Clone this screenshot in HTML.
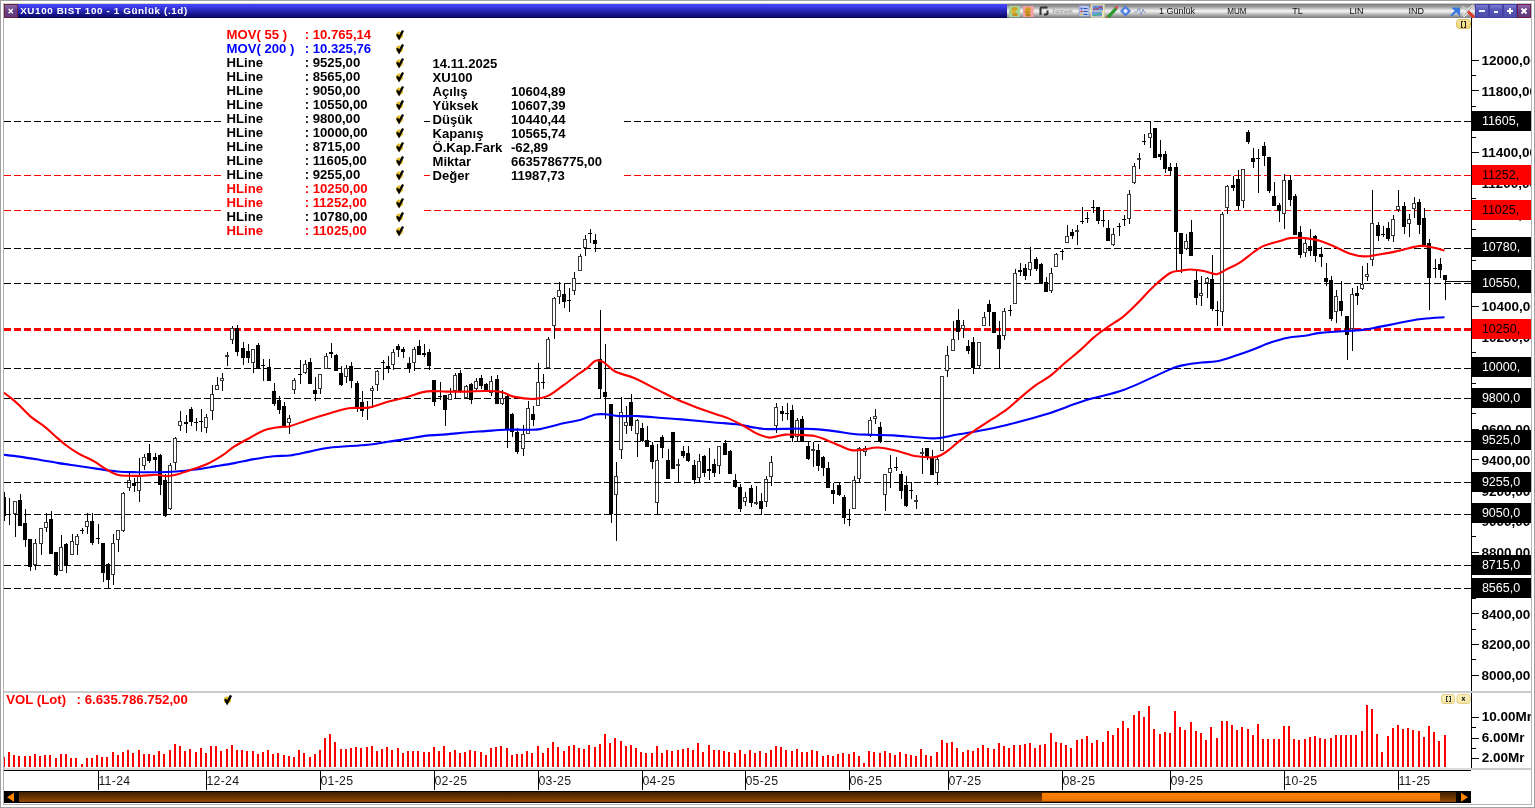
<!DOCTYPE html><html><head><meta charset="utf-8"><style>
html,body{margin:0;padding:0;background:#fff;overflow:hidden;}
body{width:1535px;height:808px;position:relative;font-family:"Liberation Sans", sans-serif;}
.a{position:absolute;}
svg{will-change:transform;}
svg text{font-family:"Liberation Sans", sans-serif;}
</style></head><body>
<svg class="a" style="left:0;top:0" width="1535" height="808" viewBox="0 0 1535 808" shape-rendering="crispEdges">
<defs>
<linearGradient id="gT" x1="0" y1="0" x2="0" y2="1"><stop offset="0" stop-color="#4646ff"/><stop offset="0.2" stop-color="#3c3cec"/><stop offset="0.45" stop-color="#2a2ab8"/><stop offset="0.75" stop-color="#16168a"/><stop offset="0.9" stop-color="#0c0c70"/><stop offset="1" stop-color="#00004e"/></linearGradient>
<linearGradient id="gG" x1="0" y1="0" x2="0" y2="1"><stop offset="0" stop-color="#7c7c7c"/><stop offset="0.18" stop-color="#9a9a9a"/><stop offset="0.5" stop-color="#f6f6f6"/><stop offset="0.8" stop-color="#a8a8a8"/><stop offset="1" stop-color="#7a7a7a"/></linearGradient>
<linearGradient id="gB" x1="0" y1="0" x2="0" y2="1"><stop offset="0" stop-color="#8080d4"/><stop offset="0.45" stop-color="#5656b6"/><stop offset="1" stop-color="#4a4aa6"/></linearGradient>
<linearGradient id="gP" x1="0" y1="0" x2="0" y2="1"><stop offset="0" stop-color="#9070b0"/><stop offset="0.5" stop-color="#6a3e88"/><stop offset="1" stop-color="#5e3a7c"/></linearGradient>
<linearGradient id="gS" x1="0" y1="0" x2="0" y2="1"><stop offset="0" stop-color="#3c1e00"/><stop offset="1" stop-color="#924800"/></linearGradient>
<linearGradient id="gO" x1="0" y1="0" x2="0" y2="1"><stop offset="0" stop-color="#ff8200"/><stop offset="1" stop-color="#ea7400"/></linearGradient>
<linearGradient id="gY" x1="0" y1="0" x2="0" y2="1"><stop offset="0" stop-color="#f8e8a0"/><stop offset="1" stop-color="#ecd478"/></linearGradient>
<linearGradient id="gY2" x1="0" y1="0" x2="0" y2="1"><stop offset="0" stop-color="#fdf4c4"/><stop offset="1" stop-color="#f4e4a4"/></linearGradient>
</defs>
<rect x="4" y="4" width="1003" height="14" fill="url(#gT)"/>
<rect x="4" y="4" width="14" height="14" fill="url(#gP)"/>
<rect x="4.5" y="4.5" width="13" height="13" fill="none" stroke="#6a2040" stroke-width="1"/>
<path d="M8.6 9 L12.8 13.2 M12.8 9 L8.6 13.2" stroke="#fff" stroke-width="1.5" shape-rendering="auto"/>
<text x="20.2" y="14" font-size="9.8" font-weight="bold" fill="#fff" textLength="167" lengthAdjust="spacing">XU100 BIST 100 - 1 Günlük (.1d)</text>
<rect x="1007" y="4" width="468" height="14" fill="url(#gG)"/>
<rect x="1475" y="4" width="14" height="14" fill="url(#gB)"/>
<rect x="1475.5" y="4.5" width="13" height="13" fill="none" stroke="#4242a8" stroke-width="1"/>
<rect x="1489" y="4" width="14" height="14" fill="url(#gB)"/>
<rect x="1489.5" y="4.5" width="13" height="13" fill="none" stroke="#4242a8" stroke-width="1"/>
<rect x="1503" y="4" width="14" height="14" fill="url(#gB)"/>
<rect x="1503.5" y="4.5" width="13" height="13" fill="none" stroke="#4242a8" stroke-width="1"/>
<rect x="1517" y="4" width="14" height="14" fill="url(#gP)"/>
<rect x="1517.5" y="4.5" width="13" height="13" fill="none" stroke="#701848" stroke-width="1"/>
<rect x="1479" y="10" width="6" height="2" fill="#f4f4ff"/>
<rect x="1494" y="11" width="4" height="2" fill="#f4f4ff"/>
<rect x="1507" y="10" width="6" height="2" fill="#fff"/><rect x="1509" y="8" width="2" height="6" fill="#fff"/>
<path d="M1521.5 8.5 L1526.5 13.5 M1526.5 8.5 L1521.5 13.5" stroke="#fff" stroke-width="1.8" shape-rendering="auto"/>
<g shape-rendering="auto">
<rect x="1009" y="6" width="11" height="11" fill="#9fd49a"/>
<ellipse cx="1014.5" cy="8.5" rx="3.2" ry="1.6" fill="#d4a020"/><ellipse cx="1013.5" cy="11.5" rx="3" ry="1.6" fill="#e0b030"/><ellipse cx="1015" cy="14.5" rx="3" ry="1.6" fill="#c89018"/>
<rect x="1023" y="6" width="10.5" height="11" fill="#f4a0a0"/>
<ellipse cx="1028" cy="9" rx="3" ry="1.8" fill="#d4a020"/><ellipse cx="1027.5" cy="12" rx="3" ry="1.8" fill="#c89018"/><ellipse cx="1028" cy="15" rx="2.6" ry="1.5" fill="#b88010"/>
<path d="M1040.5 15 V8.5 Q1040.5 7.5 1041.5 7.5 H1047.5 M1047.5 10.5 V13.5 Q1047.5 14.5 1046.5 14.5 H1044" stroke="#333" stroke-width="2" fill="none"/>
<text x="1052.5" y="13" font-size="6" fill="#8a8a8a" textLength="20" lengthAdjust="spacingAndGlyphs">Forinvest</text>
<rect x="1079" y="5.5" width="10" height="11" fill="#b8c8ec" stroke="#7a8ab8" stroke-width="0.6"/>
<circle cx="1081.5" cy="8.5" r="1" fill="#3050c0"/><circle cx="1081.5" cy="11.5" r="1.1" fill="#e04040"/><circle cx="1081.5" cy="14.5" r="1.1" fill="#e8c020"/>
<path d="M1083.5 8.5 H1087.5 M1083.5 11.5 H1087.5 M1083.5 14.5 H1087.5" stroke="#3050b0" stroke-width="1"/>
<rect x="1091" y="4.5" width="13.5" height="13" fill="#efe3b8" stroke="#d8c890" stroke-width="0.6"/>
<rect x="1092.5" y="5.5" width="10.5" height="5" fill="#5c8ee0"/><path d="M1093 10 L1095.5 8 L1097.5 9.5 L1100 6.5 L1102.5 8.5" stroke="#e02020" stroke-width="1" fill="none"/>
<rect x="1092" y="11.5" width="10" height="5" fill="#6c9ce8"/><path d="M1093 14.5 L1096 15.5 L1099 13.5 L1101.5 14.5" stroke="#30c030" stroke-width="1" fill="none"/>
<path d="M1107 16.5 L1115.5 7 L1117.5 9 L1109 18 Z" fill="#2aa02a" stroke="#187018" stroke-width="0.5"/><circle cx="1116.5" cy="7.5" r="1.4" fill="#e05050"/><path d="M1106 18 L1107 16.5 L1109 18 Z" fill="#e07030"/>
<path d="M1125.5 5.5 L1131 11 L1125.5 16.5 L1120 11 Z" fill="#4a7ee0"/><path d="M1125.5 8.5 L1128 11 L1125.5 13.5 L1123 11 Z" fill="#e8f0ff"/>
<path d="M1134 12 H1137 L1139 7 L1141 15 L1143 9 L1144 12 H1146" stroke="#8aa0c8" stroke-width="1" fill="none"/>
<path d="M1451 16 L1457 10 M1454 8.5 H1459 V13.5 Z" stroke="#3a7ae0" stroke-width="2.2" fill="#3a7ae0"/>
<path d="M1473.5 5.5 L1463 16.5" stroke="#f0f0f0" stroke-width="2.6"/><path d="M1473.5 5.5 L1463 16.5" stroke="#909090" stroke-width="1"/><path d="M1462.5 6 L1468 11.5" stroke="#c8c8c8" stroke-width="1.6"/><path d="M1468 11.5 L1474 17.5" stroke="#e03828" stroke-width="2.8"/>
</g>
<g font-size="9" fill="#141414">
<text x="1159" y="14.2">1 Günlük</text>
<text x="1227.2" y="14.2" textLength="19.3" lengthAdjust="spacingAndGlyphs">MUM</text>
<text x="1292.3" y="14.2">TL</text>
<text x="1349.5" y="14.2">LIN</text>
<text x="1408.4" y="14.2">IND</text>
</g>
<line x1="4" y1="441.5" x2="1471" y2="441.5" stroke="#000" stroke-width="1" stroke-dasharray="7 3"/>
<line x1="4" y1="588.5" x2="1471" y2="588.5" stroke="#000" stroke-width="1" stroke-dasharray="7 3"/>
<line x1="4" y1="514.5" x2="1471" y2="514.5" stroke="#000" stroke-width="1" stroke-dasharray="7 3"/>
<line x1="4" y1="283.5" x2="1471" y2="283.5" stroke="#000" stroke-width="1" stroke-dasharray="7 3"/>
<line x1="4" y1="398.5" x2="1471" y2="398.5" stroke="#000" stroke-width="1" stroke-dasharray="7 3"/>
<line x1="4" y1="368.5" x2="1471" y2="368.5" stroke="#000" stroke-width="1" stroke-dasharray="7 3"/>
<line x1="4" y1="565.5" x2="1471" y2="565.5" stroke="#000" stroke-width="1" stroke-dasharray="7 3"/>
<line x1="4" y1="121.5" x2="1471" y2="121.5" stroke="#000" stroke-width="1" stroke-dasharray="7 3"/>
<line x1="4" y1="329.5" x2="1471" y2="329.5" stroke="#ff0000" stroke-width="3" stroke-dasharray="7 3"/>
<line x1="4" y1="175.5" x2="1471" y2="175.5" stroke="#ff0000" stroke-width="1" stroke-dasharray="7 3"/>
<line x1="4" y1="248.5" x2="1471" y2="248.5" stroke="#000" stroke-width="1" stroke-dasharray="7 3"/>
<line x1="4" y1="210.5" x2="1471" y2="210.5" stroke="#ff0000" stroke-width="1" stroke-dasharray="7 3"/>
<rect x="4" y="492" width="1" height="29" fill="#000"/>
<rect x="4" y="497" width="2" height="19" fill="#000"/>
<rect x="9" y="498" width="1" height="27" fill="#000"/>
<rect x="7" y="514" width="4" height="1" fill="#000"/>
<rect x="15" y="501" width="1" height="36" fill="#000"/>
<rect x="13.5" y="501.5" width="3" height="12" fill="#fff" stroke="#3a3a3a" stroke-width="1"/>
<rect x="20" y="494" width="1" height="32" fill="#000"/>
<rect x="18" y="500" width="4" height="26" fill="#000"/>
<rect x="25" y="509" width="1" height="38" fill="#000"/>
<rect x="23" y="523" width="4" height="17" fill="#000"/>
<rect x="30" y="539" width="1" height="32" fill="#000"/>
<rect x="28" y="539" width="4" height="28" fill="#000"/>
<rect x="35" y="539" width="1" height="31" fill="#000"/>
<rect x="33.5" y="543.5" width="3" height="21" fill="#fff" stroke="#3a3a3a" stroke-width="1"/>
<rect x="41" y="528" width="1" height="27" fill="#000"/>
<rect x="39.5" y="528.5" width="3" height="15" fill="#fff" stroke="#3a3a3a" stroke-width="1"/>
<rect x="46" y="513" width="1" height="19" fill="#000"/>
<rect x="44.5" y="522.5" width="3" height="5" fill="#fff" stroke="#3a3a3a" stroke-width="1"/>
<rect x="51" y="511" width="1" height="43" fill="#000"/>
<rect x="49" y="519" width="4" height="35" fill="#000"/>
<rect x="56" y="552" width="1" height="24" fill="#000"/>
<rect x="54" y="552" width="4" height="23" fill="#000"/>
<rect x="61" y="535" width="1" height="36" fill="#000"/>
<rect x="59.5" y="547.5" width="3" height="23" fill="#fff" stroke="#3a3a3a" stroke-width="1"/>
<rect x="66" y="543" width="1" height="30" fill="#000"/>
<rect x="64" y="544" width="4" height="21" fill="#000"/>
<rect x="72" y="534" width="1" height="21" fill="#000"/>
<rect x="70.5" y="541.5" width="3" height="13" fill="#fff" stroke="#3a3a3a" stroke-width="1"/>
<rect x="77" y="534" width="1" height="21" fill="#000"/>
<rect x="75.5" y="536.5" width="3" height="8" fill="#fff" stroke="#3a3a3a" stroke-width="1"/>
<rect x="82" y="528" width="1" height="6" fill="#000"/>
<rect x="80" y="530" width="4" height="1" fill="#000"/>
<rect x="87" y="513" width="1" height="21" fill="#000"/>
<rect x="85.5" y="521.5" width="3" height="5" fill="#fff" stroke="#3a3a3a" stroke-width="1"/>
<rect x="92" y="513" width="1" height="32" fill="#000"/>
<rect x="90" y="521" width="4" height="22" fill="#000"/>
<rect x="98" y="524" width="1" height="20" fill="#000"/>
<rect x="96" y="538" width="4" height="1" fill="#000"/>
<rect x="103" y="543" width="1" height="39" fill="#000"/>
<rect x="101" y="543" width="4" height="30" fill="#000"/>
<rect x="108" y="563" width="1" height="26" fill="#000"/>
<rect x="106" y="564" width="4" height="16" fill="#000"/>
<rect x="113" y="534" width="1" height="51" fill="#000"/>
<rect x="111.5" y="543.5" width="3" height="31" fill="#fff" stroke="#3a3a3a" stroke-width="1"/>
<rect x="118" y="530" width="1" height="22" fill="#000"/>
<rect x="116.5" y="530.5" width="3" height="9" fill="#fff" stroke="#3a3a3a" stroke-width="1"/>
<rect x="123" y="492" width="1" height="40" fill="#000"/>
<rect x="121.5" y="493.5" width="3" height="37" fill="#fff" stroke="#3a3a3a" stroke-width="1"/>
<rect x="129" y="471" width="1" height="20" fill="#000"/>
<rect x="127.5" y="480.5" width="3" height="7" fill="#fff" stroke="#3a3a3a" stroke-width="1"/>
<rect x="134" y="478" width="1" height="14" fill="#000"/>
<rect x="132" y="483" width="4" height="3" fill="#000"/>
<rect x="139" y="458" width="1" height="44" fill="#000"/>
<rect x="137.5" y="476.5" width="3" height="14" fill="#fff" stroke="#3a3a3a" stroke-width="1"/>
<rect x="144" y="454" width="1" height="16" fill="#000"/>
<rect x="142.5" y="457.5" width="3" height="8" fill="#fff" stroke="#3a3a3a" stroke-width="1"/>
<rect x="149" y="444" width="1" height="19" fill="#000"/>
<rect x="147" y="453" width="4" height="8" fill="#000"/>
<rect x="155" y="453" width="1" height="18" fill="#000"/>
<rect x="153" y="457" width="4" height="3" fill="#000"/>
<rect x="160" y="454" width="1" height="41" fill="#000"/>
<rect x="158" y="455" width="4" height="30" fill="#000"/>
<rect x="165" y="474" width="1" height="43" fill="#000"/>
<rect x="163" y="480" width="4" height="36" fill="#000"/>
<rect x="170" y="463" width="1" height="47" fill="#000"/>
<rect x="168.5" y="465.5" width="3" height="43" fill="#fff" stroke="#3a3a3a" stroke-width="1"/>
<rect x="175" y="437" width="1" height="33" fill="#000"/>
<rect x="173.5" y="438.5" width="3" height="24" fill="#fff" stroke="#3a3a3a" stroke-width="1"/>
<rect x="180" y="411" width="1" height="20" fill="#000"/>
<rect x="178.5" y="421.5" width="3" height="4" fill="#fff" stroke="#3a3a3a" stroke-width="1"/>
<rect x="186" y="415" width="1" height="18" fill="#000"/>
<rect x="184" y="422" width="4" height="2" fill="#000"/>
<rect x="191" y="407" width="1" height="19" fill="#000"/>
<rect x="189" y="409" width="4" height="13" fill="#000"/>
<rect x="196" y="418" width="1" height="13" fill="#000"/>
<rect x="194" y="422" width="4" height="1" fill="#000"/>
<rect x="201" y="409" width="1" height="23" fill="#000"/>
<rect x="199" y="421" width="4" height="1" fill="#000"/>
<rect x="206" y="414" width="1" height="19" fill="#000"/>
<rect x="204.5" y="417.5" width="3" height="10" fill="#fff" stroke="#3a3a3a" stroke-width="1"/>
<rect x="212" y="385" width="1" height="35" fill="#000"/>
<rect x="210.5" y="394.5" width="3" height="16" fill="#fff" stroke="#3a3a3a" stroke-width="1"/>
<rect x="217" y="377" width="1" height="13" fill="#000"/>
<rect x="215.5" y="385.5" width="3" height="4" fill="#fff" stroke="#3a3a3a" stroke-width="1"/>
<rect x="222" y="373" width="1" height="18" fill="#000"/>
<rect x="220.5" y="378.5" width="3" height="2" fill="#fff" stroke="#3a3a3a" stroke-width="1"/>
<rect x="227" y="352" width="1" height="14" fill="#000"/>
<rect x="225.5" y="355.5" width="3" height="1" fill="#fff" stroke="#3a3a3a" stroke-width="1"/>
<rect x="232" y="326" width="1" height="18" fill="#000"/>
<rect x="230.5" y="328.5" width="3" height="11" fill="#fff" stroke="#3a3a3a" stroke-width="1"/>
<rect x="237" y="325" width="1" height="31" fill="#000"/>
<rect x="235" y="328" width="4" height="24" fill="#000"/>
<rect x="243" y="342" width="1" height="23" fill="#000"/>
<rect x="241" y="348" width="4" height="10" fill="#000"/>
<rect x="248" y="344" width="1" height="19" fill="#000"/>
<rect x="246" y="351" width="4" height="7" fill="#000"/>
<rect x="253" y="349" width="1" height="24" fill="#000"/>
<rect x="251.5" y="349.5" width="3" height="13" fill="#fff" stroke="#3a3a3a" stroke-width="1"/>
<rect x="258" y="343" width="1" height="25" fill="#000"/>
<rect x="256" y="345" width="4" height="23" fill="#000"/>
<rect x="263" y="359" width="1" height="22" fill="#000"/>
<rect x="261" y="365" width="4" height="1" fill="#000"/>
<rect x="269" y="359" width="1" height="22" fill="#000"/>
<rect x="267" y="367" width="4" height="14" fill="#000"/>
<rect x="274" y="383" width="1" height="23" fill="#000"/>
<rect x="272" y="391" width="4" height="13" fill="#000"/>
<rect x="279" y="396" width="1" height="18" fill="#000"/>
<rect x="277" y="400" width="4" height="10" fill="#000"/>
<rect x="284" y="402" width="1" height="26" fill="#000"/>
<rect x="282" y="406" width="4" height="20" fill="#000"/>
<rect x="289" y="415" width="1" height="19" fill="#000"/>
<rect x="287.5" y="418.5" width="3" height="4" fill="#fff" stroke="#3a3a3a" stroke-width="1"/>
<rect x="294" y="378" width="1" height="16" fill="#000"/>
<rect x="292.5" y="380.5" width="3" height="9" fill="#fff" stroke="#3a3a3a" stroke-width="1"/>
<rect x="300" y="360" width="1" height="24" fill="#000"/>
<rect x="298" y="374" width="4" height="1" fill="#000"/>
<rect x="305" y="360" width="1" height="14" fill="#000"/>
<rect x="303.5" y="364.5" width="3" height="8" fill="#fff" stroke="#3a3a3a" stroke-width="1"/>
<rect x="310" y="358" width="1" height="26" fill="#000"/>
<rect x="308" y="362" width="4" height="22" fill="#000"/>
<rect x="315" y="377" width="1" height="24" fill="#000"/>
<rect x="313" y="390" width="4" height="4" fill="#000"/>
<rect x="320" y="374" width="1" height="20" fill="#000"/>
<rect x="318.5" y="374.5" width="3" height="14" fill="#fff" stroke="#3a3a3a" stroke-width="1"/>
<rect x="326" y="353" width="1" height="16" fill="#000"/>
<rect x="324.5" y="356.5" width="3" height="12" fill="#fff" stroke="#3a3a3a" stroke-width="1"/>
<rect x="331" y="343" width="1" height="15" fill="#000"/>
<rect x="329" y="352" width="4" height="2" fill="#000"/>
<rect x="336" y="354" width="1" height="17" fill="#000"/>
<rect x="334" y="355" width="4" height="16" fill="#000"/>
<rect x="341" y="366" width="1" height="20" fill="#000"/>
<rect x="339" y="373" width="4" height="12" fill="#000"/>
<rect x="346" y="365" width="1" height="18" fill="#000"/>
<rect x="344.5" y="368.5" width="3" height="8" fill="#fff" stroke="#3a3a3a" stroke-width="1"/>
<rect x="351" y="362" width="1" height="26" fill="#000"/>
<rect x="349" y="366" width="4" height="15" fill="#000"/>
<rect x="357" y="381" width="1" height="31" fill="#000"/>
<rect x="355" y="383" width="4" height="25" fill="#000"/>
<rect x="362" y="391" width="1" height="26" fill="#000"/>
<rect x="360" y="402" width="4" height="9" fill="#000"/>
<rect x="367" y="401" width="1" height="19" fill="#000"/>
<rect x="365" y="408" width="4" height="1" fill="#000"/>
<rect x="372" y="386" width="1" height="22" fill="#000"/>
<rect x="370.5" y="388.5" width="3" height="2" fill="#fff" stroke="#3a3a3a" stroke-width="1"/>
<rect x="377" y="370" width="1" height="21" fill="#000"/>
<rect x="375.5" y="371.5" width="3" height="13" fill="#fff" stroke="#3a3a3a" stroke-width="1"/>
<rect x="383" y="360" width="1" height="20" fill="#000"/>
<rect x="381" y="362" width="4" height="1" fill="#000"/>
<rect x="388" y="356" width="1" height="17" fill="#000"/>
<rect x="386" y="366" width="4" height="2" fill="#000"/>
<rect x="393" y="349" width="1" height="21" fill="#000"/>
<rect x="391.5" y="352.5" width="3" height="12" fill="#fff" stroke="#3a3a3a" stroke-width="1"/>
<rect x="398" y="344" width="1" height="13" fill="#000"/>
<rect x="396" y="346" width="4" height="4" fill="#000"/>
<rect x="403" y="347" width="1" height="11" fill="#000"/>
<rect x="401" y="349" width="4" height="3" fill="#000"/>
<rect x="409" y="357" width="1" height="16" fill="#000"/>
<rect x="407" y="363" width="4" height="5" fill="#000"/>
<rect x="414" y="347" width="1" height="24" fill="#000"/>
<rect x="412.5" y="349.5" width="3" height="13" fill="#fff" stroke="#3a3a3a" stroke-width="1"/>
<rect x="419" y="340" width="1" height="15" fill="#000"/>
<rect x="417" y="346" width="4" height="9" fill="#000"/>
<rect x="424" y="344" width="1" height="13" fill="#000"/>
<rect x="422" y="353" width="4" height="2" fill="#000"/>
<rect x="429" y="349" width="1" height="21" fill="#000"/>
<rect x="427" y="352" width="4" height="14" fill="#000"/>
<rect x="434" y="380" width="1" height="26" fill="#000"/>
<rect x="432" y="380" width="4" height="22" fill="#000"/>
<rect x="440" y="382" width="1" height="18" fill="#000"/>
<rect x="438" y="396" width="4" height="1" fill="#000"/>
<rect x="445" y="395" width="1" height="31" fill="#000"/>
<rect x="443" y="395" width="4" height="15" fill="#000"/>
<rect x="450" y="388" width="1" height="12" fill="#000"/>
<rect x="448.5" y="394.5" width="3" height="5" fill="#fff" stroke="#3a3a3a" stroke-width="1"/>
<rect x="455" y="373" width="1" height="25" fill="#000"/>
<rect x="453.5" y="375.5" width="3" height="15" fill="#fff" stroke="#3a3a3a" stroke-width="1"/>
<rect x="460" y="370" width="1" height="23" fill="#000"/>
<rect x="458" y="373" width="4" height="18" fill="#000"/>
<rect x="466" y="385" width="1" height="14" fill="#000"/>
<rect x="464.5" y="386.5" width="3" height="11" fill="#fff" stroke="#3a3a3a" stroke-width="1"/>
<rect x="471" y="383" width="1" height="21" fill="#000"/>
<rect x="469" y="384" width="4" height="16" fill="#000"/>
<rect x="476" y="378" width="1" height="12" fill="#000"/>
<rect x="474.5" y="381.5" width="3" height="7" fill="#fff" stroke="#3a3a3a" stroke-width="1"/>
<rect x="481" y="375" width="1" height="14" fill="#000"/>
<rect x="479" y="378" width="4" height="8" fill="#000"/>
<rect x="486" y="383" width="1" height="7" fill="#000"/>
<rect x="484" y="384" width="4" height="6" fill="#000"/>
<rect x="491" y="376" width="1" height="20" fill="#000"/>
<rect x="489.5" y="381.5" width="3" height="11" fill="#fff" stroke="#3a3a3a" stroke-width="1"/>
<rect x="497" y="375" width="1" height="29" fill="#000"/>
<rect x="495" y="379" width="4" height="25" fill="#000"/>
<rect x="502" y="390" width="1" height="15" fill="#000"/>
<rect x="500.5" y="398.5" width="3" height="5" fill="#fff" stroke="#3a3a3a" stroke-width="1"/>
<rect x="507" y="395" width="1" height="53" fill="#000"/>
<rect x="505" y="396" width="4" height="33" fill="#000"/>
<rect x="512" y="413" width="1" height="24" fill="#000"/>
<rect x="510" y="414" width="4" height="18" fill="#000"/>
<rect x="517" y="428" width="1" height="26" fill="#000"/>
<rect x="515" y="432" width="4" height="20" fill="#000"/>
<rect x="523" y="425" width="1" height="31" fill="#000"/>
<rect x="521.5" y="434.5" width="3" height="14" fill="#fff" stroke="#3a3a3a" stroke-width="1"/>
<rect x="528" y="401" width="1" height="33" fill="#000"/>
<rect x="526.5" y="408.5" width="3" height="25" fill="#fff" stroke="#3a3a3a" stroke-width="1"/>
<rect x="533" y="406" width="1" height="20" fill="#000"/>
<rect x="531" y="414" width="4" height="6" fill="#000"/>
<rect x="538" y="363" width="1" height="43" fill="#000"/>
<rect x="536.5" y="382.5" width="3" height="23" fill="#fff" stroke="#3a3a3a" stroke-width="1"/>
<rect x="543" y="374" width="1" height="15" fill="#000"/>
<rect x="541" y="382" width="4" height="1" fill="#000"/>
<rect x="548" y="337" width="1" height="31" fill="#000"/>
<rect x="546.5" y="339.5" width="3" height="28" fill="#fff" stroke="#3a3a3a" stroke-width="1"/>
<rect x="554" y="297" width="1" height="42" fill="#000"/>
<rect x="552.5" y="298.5" width="3" height="27" fill="#fff" stroke="#3a3a3a" stroke-width="1"/>
<rect x="559" y="282" width="1" height="22" fill="#000"/>
<rect x="557.5" y="290.5" width="3" height="6" fill="#fff" stroke="#3a3a3a" stroke-width="1"/>
<rect x="564" y="283" width="1" height="25" fill="#000"/>
<rect x="562" y="294" width="4" height="8" fill="#000"/>
<rect x="569" y="288" width="1" height="24" fill="#000"/>
<rect x="567" y="300" width="4" height="1" fill="#000"/>
<rect x="574" y="272" width="1" height="23" fill="#000"/>
<rect x="572.5" y="278.5" width="3" height="12" fill="#fff" stroke="#3a3a3a" stroke-width="1"/>
<rect x="580" y="254" width="1" height="17" fill="#000"/>
<rect x="578.5" y="256.5" width="3" height="14" fill="#fff" stroke="#3a3a3a" stroke-width="1"/>
<rect x="585" y="235" width="1" height="21" fill="#000"/>
<rect x="583.5" y="239.5" width="3" height="8" fill="#fff" stroke="#3a3a3a" stroke-width="1"/>
<rect x="590" y="229" width="1" height="14" fill="#000"/>
<rect x="588" y="233" width="4" height="1" fill="#000"/>
<rect x="595" y="234" width="1" height="18" fill="#000"/>
<rect x="593" y="240" width="4" height="4" fill="#000"/>
<rect x="600" y="310" width="1" height="88" fill="#000"/>
<rect x="598" y="359" width="4" height="30" fill="#000"/>
<rect x="605" y="344" width="1" height="75" fill="#000"/>
<rect x="603" y="392" width="4" height="5" fill="#000"/>
<rect x="611" y="404" width="1" height="119" fill="#000"/>
<rect x="609" y="404" width="4" height="110" fill="#000"/>
<rect x="616" y="462" width="1" height="79" fill="#000"/>
<rect x="614.5" y="476.5" width="3" height="18" fill="#fff" stroke="#3a3a3a" stroke-width="1"/>
<rect x="621" y="397" width="1" height="62" fill="#000"/>
<rect x="619.5" y="412.5" width="3" height="37" fill="#fff" stroke="#3a3a3a" stroke-width="1"/>
<rect x="626" y="406" width="1" height="28" fill="#000"/>
<rect x="624.5" y="422.5" width="3" height="3" fill="#fff" stroke="#3a3a3a" stroke-width="1"/>
<rect x="631" y="394" width="1" height="37" fill="#000"/>
<rect x="629" y="402" width="4" height="24" fill="#000"/>
<rect x="637" y="419" width="1" height="38" fill="#000"/>
<rect x="635.5" y="420.5" width="3" height="13" fill="#fff" stroke="#3a3a3a" stroke-width="1"/>
<rect x="642" y="423" width="1" height="19" fill="#000"/>
<rect x="640" y="428" width="4" height="13" fill="#000"/>
<rect x="647" y="426" width="1" height="21" fill="#000"/>
<rect x="645" y="440" width="4" height="7" fill="#000"/>
<rect x="652" y="442" width="1" height="27" fill="#000"/>
<rect x="650" y="445" width="4" height="17" fill="#000"/>
<rect x="657" y="444" width="1" height="70" fill="#000"/>
<rect x="655.5" y="460.5" width="3" height="42" fill="#fff" stroke="#3a3a3a" stroke-width="1"/>
<rect x="662" y="435" width="1" height="23" fill="#000"/>
<rect x="660" y="437" width="4" height="11" fill="#000"/>
<rect x="668" y="449" width="1" height="30" fill="#000"/>
<rect x="666" y="460" width="4" height="19" fill="#000"/>
<rect x="673" y="432" width="1" height="37" fill="#000"/>
<rect x="671" y="432" width="4" height="37" fill="#000"/>
<rect x="678" y="459" width="1" height="23" fill="#000"/>
<rect x="676.5" y="464.5" width="3" height="1" fill="#fff" stroke="#3a3a3a" stroke-width="1"/>
<rect x="683" y="446" width="1" height="12" fill="#000"/>
<rect x="681" y="451" width="4" height="5" fill="#000"/>
<rect x="688" y="446" width="1" height="16" fill="#000"/>
<rect x="686" y="453" width="4" height="8" fill="#000"/>
<rect x="694" y="460" width="1" height="24" fill="#000"/>
<rect x="692" y="465" width="4" height="15" fill="#000"/>
<rect x="699" y="454" width="1" height="28" fill="#000"/>
<rect x="697.5" y="461.5" width="3" height="16" fill="#fff" stroke="#3a3a3a" stroke-width="1"/>
<rect x="704" y="455" width="1" height="22" fill="#000"/>
<rect x="702" y="456" width="4" height="17" fill="#000"/>
<rect x="709" y="448" width="1" height="32" fill="#000"/>
<rect x="707" y="469" width="4" height="2" fill="#000"/>
<rect x="714" y="459" width="1" height="18" fill="#000"/>
<rect x="712" y="464" width="4" height="9" fill="#000"/>
<rect x="719" y="446" width="1" height="28" fill="#000"/>
<rect x="717.5" y="446.5" width="3" height="19" fill="#fff" stroke="#3a3a3a" stroke-width="1"/>
<rect x="725" y="440" width="1" height="15" fill="#000"/>
<rect x="723" y="443" width="4" height="12" fill="#000"/>
<rect x="730" y="450" width="1" height="24" fill="#000"/>
<rect x="728" y="451" width="4" height="23" fill="#000"/>
<rect x="735" y="474" width="1" height="14" fill="#000"/>
<rect x="733" y="480" width="4" height="7" fill="#000"/>
<rect x="740" y="484" width="1" height="28" fill="#000"/>
<rect x="738" y="487" width="4" height="22" fill="#000"/>
<rect x="745" y="492" width="1" height="14" fill="#000"/>
<rect x="743.5" y="497.5" width="3" height="4" fill="#fff" stroke="#3a3a3a" stroke-width="1"/>
<rect x="751" y="485" width="1" height="22" fill="#000"/>
<rect x="749" y="488" width="4" height="15" fill="#000"/>
<rect x="756" y="486" width="1" height="19" fill="#000"/>
<rect x="754.5" y="502.5" width="3" height="1" fill="#fff" stroke="#3a3a3a" stroke-width="1"/>
<rect x="761" y="493" width="1" height="22" fill="#000"/>
<rect x="759" y="501" width="4" height="8" fill="#000"/>
<rect x="766" y="476" width="1" height="31" fill="#000"/>
<rect x="764.5" y="479.5" width="3" height="22" fill="#fff" stroke="#3a3a3a" stroke-width="1"/>
<rect x="771" y="456" width="1" height="30" fill="#000"/>
<rect x="769.5" y="462.5" width="3" height="14" fill="#fff" stroke="#3a3a3a" stroke-width="1"/>
<rect x="776" y="403" width="1" height="30" fill="#000"/>
<rect x="774.5" y="407.5" width="3" height="18" fill="#fff" stroke="#3a3a3a" stroke-width="1"/>
<rect x="782" y="406" width="1" height="15" fill="#000"/>
<rect x="780" y="411" width="4" height="3" fill="#000"/>
<rect x="787" y="403" width="1" height="17" fill="#000"/>
<rect x="785" y="413" width="4" height="1" fill="#000"/>
<rect x="792" y="405" width="1" height="37" fill="#000"/>
<rect x="790" y="410" width="4" height="28" fill="#000"/>
<rect x="797" y="418" width="1" height="24" fill="#000"/>
<rect x="795.5" y="420.5" width="3" height="16" fill="#fff" stroke="#3a3a3a" stroke-width="1"/>
<rect x="802" y="416" width="1" height="26" fill="#000"/>
<rect x="800" y="419" width="4" height="23" fill="#000"/>
<rect x="808" y="441" width="1" height="19" fill="#000"/>
<rect x="806" y="446" width="4" height="13" fill="#000"/>
<rect x="813" y="442" width="1" height="25" fill="#000"/>
<rect x="811.5" y="449.5" width="3" height="1" fill="#fff" stroke="#3a3a3a" stroke-width="1"/>
<rect x="818" y="444" width="1" height="27" fill="#000"/>
<rect x="816" y="450" width="4" height="16" fill="#000"/>
<rect x="823" y="456" width="1" height="20" fill="#000"/>
<rect x="821" y="457" width="4" height="11" fill="#000"/>
<rect x="828" y="462" width="1" height="26" fill="#000"/>
<rect x="826" y="468" width="4" height="20" fill="#000"/>
<rect x="833" y="483" width="1" height="21" fill="#000"/>
<rect x="831" y="490" width="4" height="4" fill="#000"/>
<rect x="839" y="482" width="1" height="14" fill="#000"/>
<rect x="837" y="485" width="4" height="10" fill="#000"/>
<rect x="844" y="495" width="1" height="29" fill="#000"/>
<rect x="842" y="497" width="4" height="21" fill="#000"/>
<rect x="849" y="509" width="1" height="17" fill="#000"/>
<rect x="847" y="519" width="4" height="1" fill="#000"/>
<rect x="854" y="476" width="1" height="33" fill="#000"/>
<rect x="852.5" y="480.5" width="3" height="28" fill="#fff" stroke="#3a3a3a" stroke-width="1"/>
<rect x="859" y="447" width="1" height="35" fill="#000"/>
<rect x="857.5" y="448.5" width="3" height="30" fill="#fff" stroke="#3a3a3a" stroke-width="1"/>
<rect x="865" y="446" width="1" height="10" fill="#000"/>
<rect x="863.5" y="448.5" width="3" height="3" fill="#fff" stroke="#3a3a3a" stroke-width="1"/>
<rect x="870" y="417" width="1" height="20" fill="#000"/>
<rect x="868.5" y="420.5" width="3" height="15" fill="#fff" stroke="#3a3a3a" stroke-width="1"/>
<rect x="875" y="409" width="1" height="15" fill="#000"/>
<rect x="873.5" y="416.5" width="3" height="2" fill="#fff" stroke="#3a3a3a" stroke-width="1"/>
<rect x="880" y="422" width="1" height="21" fill="#000"/>
<rect x="878" y="427" width="4" height="15" fill="#000"/>
<rect x="885" y="474" width="1" height="37" fill="#000"/>
<rect x="883.5" y="474.5" width="3" height="20" fill="#fff" stroke="#3a3a3a" stroke-width="1"/>
<rect x="890" y="455" width="1" height="33" fill="#000"/>
<rect x="888.5" y="468.5" width="3" height="4" fill="#fff" stroke="#3a3a3a" stroke-width="1"/>
<rect x="896" y="457" width="1" height="14" fill="#000"/>
<rect x="894" y="467" width="4" height="1" fill="#000"/>
<rect x="901" y="471" width="1" height="28" fill="#000"/>
<rect x="899" y="474" width="4" height="17" fill="#000"/>
<rect x="906" y="476" width="1" height="31" fill="#000"/>
<rect x="904" y="485" width="4" height="21" fill="#000"/>
<rect x="911" y="482" width="1" height="17" fill="#000"/>
<rect x="909" y="490" width="4" height="1" fill="#000"/>
<rect x="916" y="495" width="1" height="14" fill="#000"/>
<rect x="914.5" y="500.5" width="3" height="1" fill="#fff" stroke="#3a3a3a" stroke-width="1"/>
<rect x="922" y="448" width="1" height="26" fill="#000"/>
<rect x="920.5" y="452.5" width="3" height="1" fill="#fff" stroke="#3a3a3a" stroke-width="1"/>
<rect x="927" y="448" width="1" height="12" fill="#000"/>
<rect x="925" y="448" width="4" height="9" fill="#000"/>
<rect x="932" y="450" width="1" height="25" fill="#000"/>
<rect x="930" y="458" width="4" height="17" fill="#000"/>
<rect x="937" y="456" width="1" height="29" fill="#000"/>
<rect x="935.5" y="459.5" width="3" height="13" fill="#fff" stroke="#3a3a3a" stroke-width="1"/>
<rect x="942" y="376" width="1" height="75" fill="#000"/>
<rect x="940.5" y="376.5" width="3" height="74" fill="#fff" stroke="#3a3a3a" stroke-width="1"/>
<rect x="947" y="346" width="1" height="31" fill="#000"/>
<rect x="945.5" y="355.5" width="3" height="15" fill="#fff" stroke="#3a3a3a" stroke-width="1"/>
<rect x="953" y="321" width="1" height="30" fill="#000"/>
<rect x="951.5" y="339.5" width="3" height="11" fill="#fff" stroke="#3a3a3a" stroke-width="1"/>
<rect x="958" y="309" width="1" height="31" fill="#000"/>
<rect x="956" y="320" width="4" height="12" fill="#000"/>
<rect x="963" y="320" width="1" height="18" fill="#000"/>
<rect x="961.5" y="325.5" width="3" height="3" fill="#fff" stroke="#3a3a3a" stroke-width="1"/>
<rect x="968" y="340" width="1" height="14" fill="#000"/>
<rect x="966" y="346" width="4" height="5" fill="#000"/>
<rect x="973" y="337" width="1" height="37" fill="#000"/>
<rect x="971" y="342" width="4" height="26" fill="#000"/>
<rect x="979" y="342" width="1" height="27" fill="#000"/>
<rect x="977.5" y="342.5" width="3" height="23" fill="#fff" stroke="#3a3a3a" stroke-width="1"/>
<rect x="984" y="312" width="1" height="14" fill="#000"/>
<rect x="982.5" y="317.5" width="3" height="8" fill="#fff" stroke="#3a3a3a" stroke-width="1"/>
<rect x="989" y="300" width="1" height="26" fill="#000"/>
<rect x="987" y="304" width="4" height="8" fill="#000"/>
<rect x="994" y="312" width="1" height="21" fill="#000"/>
<rect x="992" y="312" width="4" height="21" fill="#000"/>
<rect x="999" y="321" width="1" height="48" fill="#000"/>
<rect x="997" y="335" width="4" height="14" fill="#000"/>
<rect x="1004" y="308" width="1" height="32" fill="#000"/>
<rect x="1002.5" y="311.5" width="3" height="24" fill="#fff" stroke="#3a3a3a" stroke-width="1"/>
<rect x="1010" y="305" width="1" height="11" fill="#000"/>
<rect x="1008" y="310" width="4" height="1" fill="#000"/>
<rect x="1015" y="269" width="1" height="35" fill="#000"/>
<rect x="1013.5" y="273.5" width="3" height="30" fill="#fff" stroke="#3a3a3a" stroke-width="1"/>
<rect x="1020" y="263" width="1" height="13" fill="#000"/>
<rect x="1018" y="270" width="4" height="2" fill="#000"/>
<rect x="1025" y="264" width="1" height="16" fill="#000"/>
<rect x="1023" y="268" width="4" height="8" fill="#000"/>
<rect x="1030" y="247" width="1" height="29" fill="#000"/>
<rect x="1028.5" y="262.5" width="3" height="7" fill="#fff" stroke="#3a3a3a" stroke-width="1"/>
<rect x="1036" y="257" width="1" height="14" fill="#000"/>
<rect x="1034" y="259" width="4" height="10" fill="#000"/>
<rect x="1041" y="263" width="1" height="21" fill="#000"/>
<rect x="1039" y="264" width="4" height="20" fill="#000"/>
<rect x="1046" y="277" width="1" height="15" fill="#000"/>
<rect x="1044" y="282" width="4" height="10" fill="#000"/>
<rect x="1051" y="268" width="1" height="25" fill="#000"/>
<rect x="1049.5" y="273.5" width="3" height="17" fill="#fff" stroke="#3a3a3a" stroke-width="1"/>
<rect x="1056" y="253" width="1" height="14" fill="#000"/>
<rect x="1054.5" y="254.5" width="3" height="12" fill="#fff" stroke="#3a3a3a" stroke-width="1"/>
<rect x="1062" y="249" width="1" height="11" fill="#000"/>
<rect x="1060" y="251" width="4" height="1" fill="#000"/>
<rect x="1067" y="225" width="1" height="18" fill="#000"/>
<rect x="1065.5" y="236.5" width="3" height="6" fill="#fff" stroke="#3a3a3a" stroke-width="1"/>
<rect x="1072" y="229" width="1" height="10" fill="#000"/>
<rect x="1070" y="232" width="4" height="4" fill="#000"/>
<rect x="1077" y="225" width="1" height="20" fill="#000"/>
<rect x="1075.5" y="230.5" width="3" height="1" fill="#fff" stroke="#3a3a3a" stroke-width="1"/>
<rect x="1082" y="207" width="1" height="17" fill="#000"/>
<rect x="1080" y="221" width="4" height="1" fill="#000"/>
<rect x="1087" y="212" width="1" height="11" fill="#000"/>
<rect x="1085" y="218" width="4" height="1" fill="#000"/>
<rect x="1093" y="200" width="1" height="13" fill="#000"/>
<rect x="1091" y="207" width="4" height="1" fill="#000"/>
<rect x="1098" y="207" width="1" height="17" fill="#000"/>
<rect x="1096" y="207" width="4" height="14" fill="#000"/>
<rect x="1103" y="210" width="1" height="17" fill="#000"/>
<rect x="1101" y="220" width="4" height="1" fill="#000"/>
<rect x="1108" y="220" width="1" height="21" fill="#000"/>
<rect x="1106" y="228" width="4" height="13" fill="#000"/>
<rect x="1113" y="228" width="1" height="18" fill="#000"/>
<rect x="1111.5" y="234.5" width="3" height="10" fill="#fff" stroke="#3a3a3a" stroke-width="1"/>
<rect x="1119" y="223" width="1" height="13" fill="#000"/>
<rect x="1117" y="226" width="4" height="1" fill="#000"/>
<rect x="1124" y="215" width="1" height="11" fill="#000"/>
<rect x="1122" y="219" width="4" height="1" fill="#000"/>
<rect x="1129" y="190" width="1" height="34" fill="#000"/>
<rect x="1127.5" y="194.5" width="3" height="24" fill="#fff" stroke="#3a3a3a" stroke-width="1"/>
<rect x="1134" y="163" width="1" height="21" fill="#000"/>
<rect x="1132.5" y="166.5" width="3" height="16" fill="#fff" stroke="#3a3a3a" stroke-width="1"/>
<rect x="1139" y="153" width="1" height="16" fill="#000"/>
<rect x="1137.5" y="158.5" width="3" height="1" fill="#fff" stroke="#3a3a3a" stroke-width="1"/>
<rect x="1144" y="134" width="1" height="11" fill="#000"/>
<rect x="1142" y="141" width="4" height="1" fill="#000"/>
<rect x="1150" y="122" width="1" height="26" fill="#000"/>
<rect x="1148.5" y="133.5" width="3" height="4" fill="#fff" stroke="#3a3a3a" stroke-width="1"/>
<rect x="1155" y="128" width="1" height="30" fill="#000"/>
<rect x="1153" y="128" width="4" height="30" fill="#000"/>
<rect x="1160" y="140" width="1" height="20" fill="#000"/>
<rect x="1158" y="154" width="4" height="3" fill="#000"/>
<rect x="1165" y="151" width="1" height="22" fill="#000"/>
<rect x="1163" y="154" width="4" height="15" fill="#000"/>
<rect x="1170" y="163" width="1" height="13" fill="#000"/>
<rect x="1168" y="167" width="4" height="4" fill="#000"/>
<rect x="1176" y="163" width="1" height="109" fill="#000"/>
<rect x="1174" y="167" width="4" height="65" fill="#000"/>
<rect x="1181" y="233" width="1" height="40" fill="#000"/>
<rect x="1179" y="233" width="4" height="21" fill="#000"/>
<rect x="1186" y="234" width="1" height="16" fill="#000"/>
<rect x="1184.5" y="241.5" width="3" height="7" fill="#fff" stroke="#3a3a3a" stroke-width="1"/>
<rect x="1191" y="220" width="1" height="36" fill="#000"/>
<rect x="1189" y="232" width="4" height="24" fill="#000"/>
<rect x="1196" y="271" width="1" height="34" fill="#000"/>
<rect x="1194" y="280" width="4" height="18" fill="#000"/>
<rect x="1201" y="276" width="1" height="30" fill="#000"/>
<rect x="1199.5" y="293.5" width="3" height="2" fill="#fff" stroke="#3a3a3a" stroke-width="1"/>
<rect x="1207" y="277" width="1" height="21" fill="#000"/>
<rect x="1205.5" y="278.5" width="3" height="4" fill="#fff" stroke="#3a3a3a" stroke-width="1"/>
<rect x="1212" y="255" width="1" height="56" fill="#000"/>
<rect x="1210" y="279" width="4" height="30" fill="#000"/>
<rect x="1217" y="301" width="1" height="25" fill="#000"/>
<rect x="1215" y="310" width="4" height="1" fill="#000"/>
<rect x="1222" y="212" width="1" height="114" fill="#000"/>
<rect x="1220.5" y="214.5" width="3" height="97" fill="#fff" stroke="#3a3a3a" stroke-width="1"/>
<rect x="1227" y="185" width="1" height="29" fill="#000"/>
<rect x="1225.5" y="186.5" width="3" height="21" fill="#fff" stroke="#3a3a3a" stroke-width="1"/>
<rect x="1233" y="176" width="1" height="15" fill="#000"/>
<rect x="1231" y="185" width="4" height="3" fill="#000"/>
<rect x="1238" y="170" width="1" height="40" fill="#000"/>
<rect x="1236" y="179" width="4" height="27" fill="#000"/>
<rect x="1243" y="169" width="1" height="39" fill="#000"/>
<rect x="1241.5" y="169.5" width="3" height="31" fill="#fff" stroke="#3a3a3a" stroke-width="1"/>
<rect x="1248" y="130" width="1" height="14" fill="#000"/>
<rect x="1246" y="132" width="4" height="10" fill="#000"/>
<rect x="1253" y="148" width="1" height="20" fill="#000"/>
<rect x="1251" y="158" width="4" height="4" fill="#000"/>
<rect x="1258" y="149" width="1" height="44" fill="#000"/>
<rect x="1256" y="158" width="4" height="1" fill="#000"/>
<rect x="1264" y="142" width="1" height="24" fill="#000"/>
<rect x="1262" y="146" width="4" height="10" fill="#000"/>
<rect x="1269" y="157" width="1" height="36" fill="#000"/>
<rect x="1267" y="157" width="4" height="34" fill="#000"/>
<rect x="1274" y="182" width="1" height="24" fill="#000"/>
<rect x="1272" y="196" width="4" height="10" fill="#000"/>
<rect x="1279" y="203" width="1" height="19" fill="#000"/>
<rect x="1277" y="205" width="4" height="6" fill="#000"/>
<rect x="1284" y="174" width="1" height="55" fill="#000"/>
<rect x="1282.5" y="180.5" width="3" height="33" fill="#fff" stroke="#3a3a3a" stroke-width="1"/>
<rect x="1290" y="175" width="1" height="31" fill="#000"/>
<rect x="1288" y="180" width="4" height="20" fill="#000"/>
<rect x="1295" y="194" width="1" height="41" fill="#000"/>
<rect x="1293" y="196" width="4" height="39" fill="#000"/>
<rect x="1300" y="226" width="1" height="32" fill="#000"/>
<rect x="1298" y="232" width="4" height="23" fill="#000"/>
<rect x="1305" y="238" width="1" height="19" fill="#000"/>
<rect x="1303.5" y="243.5" width="3" height="9" fill="#fff" stroke="#3a3a3a" stroke-width="1"/>
<rect x="1310" y="229" width="1" height="27" fill="#000"/>
<rect x="1308" y="246" width="4" height="5" fill="#000"/>
<rect x="1315" y="235" width="1" height="27" fill="#000"/>
<rect x="1313" y="236" width="4" height="20" fill="#000"/>
<rect x="1321" y="247" width="1" height="20" fill="#000"/>
<rect x="1319" y="254" width="4" height="3" fill="#000"/>
<rect x="1326" y="263" width="1" height="23" fill="#000"/>
<rect x="1324" y="278" width="4" height="4" fill="#000"/>
<rect x="1331" y="276" width="1" height="45" fill="#000"/>
<rect x="1329" y="280" width="4" height="39" fill="#000"/>
<rect x="1336" y="290" width="1" height="33" fill="#000"/>
<rect x="1334.5" y="296.5" width="3" height="15" fill="#fff" stroke="#3a3a3a" stroke-width="1"/>
<rect x="1341" y="281" width="1" height="35" fill="#000"/>
<rect x="1339" y="301" width="4" height="10" fill="#000"/>
<rect x="1347" y="316" width="1" height="44" fill="#000"/>
<rect x="1345" y="316" width="4" height="19" fill="#000"/>
<rect x="1352" y="288" width="1" height="63" fill="#000"/>
<rect x="1350.5" y="294.5" width="3" height="34" fill="#fff" stroke="#3a3a3a" stroke-width="1"/>
<rect x="1357" y="286" width="1" height="19" fill="#000"/>
<rect x="1355" y="293" width="4" height="3" fill="#000"/>
<rect x="1362" y="266" width="1" height="24" fill="#000"/>
<rect x="1360.5" y="284.5" width="3" height="4" fill="#fff" stroke="#3a3a3a" stroke-width="1"/>
<rect x="1367" y="263" width="1" height="18" fill="#000"/>
<rect x="1365.5" y="274.5" width="3" height="2" fill="#fff" stroke="#3a3a3a" stroke-width="1"/>
<rect x="1372" y="190" width="1" height="76" fill="#000"/>
<rect x="1370.5" y="223.5" width="3" height="36" fill="#fff" stroke="#3a3a3a" stroke-width="1"/>
<rect x="1378" y="222" width="1" height="19" fill="#000"/>
<rect x="1376" y="225" width="4" height="11" fill="#000"/>
<rect x="1383" y="226" width="1" height="11" fill="#000"/>
<rect x="1381" y="234" width="4" height="1" fill="#000"/>
<rect x="1388" y="222" width="1" height="19" fill="#000"/>
<rect x="1386" y="228" width="4" height="11" fill="#000"/>
<rect x="1393" y="215" width="1" height="27" fill="#000"/>
<rect x="1391.5" y="219.5" width="3" height="16" fill="#fff" stroke="#3a3a3a" stroke-width="1"/>
<rect x="1398" y="190" width="1" height="22" fill="#000"/>
<rect x="1396.5" y="206.5" width="3" height="3" fill="#fff" stroke="#3a3a3a" stroke-width="1"/>
<rect x="1404" y="202" width="1" height="32" fill="#000"/>
<rect x="1402" y="206" width="4" height="21" fill="#000"/>
<rect x="1409" y="214" width="1" height="23" fill="#000"/>
<rect x="1407.5" y="219.5" width="3" height="4" fill="#fff" stroke="#3a3a3a" stroke-width="1"/>
<rect x="1414" y="197" width="1" height="21" fill="#000"/>
<rect x="1412.5" y="203.5" width="3" height="5" fill="#fff" stroke="#3a3a3a" stroke-width="1"/>
<rect x="1419" y="199" width="1" height="35" fill="#000"/>
<rect x="1417" y="202" width="4" height="23" fill="#000"/>
<rect x="1424" y="208" width="1" height="37" fill="#000"/>
<rect x="1422" y="218" width="4" height="27" fill="#000"/>
<rect x="1429" y="239" width="1" height="71" fill="#000"/>
<rect x="1427" y="243" width="4" height="35" fill="#000"/>
<rect x="1435" y="259" width="1" height="19" fill="#000"/>
<rect x="1433" y="268" width="4" height="1" fill="#000"/>
<rect x="1440" y="258" width="1" height="20" fill="#000"/>
<rect x="1438" y="264" width="4" height="6" fill="#000"/>
<rect x="1445" y="275" width="1" height="25" fill="#000"/>
<rect x="1443" y="275" width="4" height="5" fill="#000"/>
<line x1="4" y1="482.5" x2="1471" y2="482.5" stroke="#000" stroke-width="1" stroke-dasharray="7 3"/>
<path d="M3.90 454.80 C6.50 455.10 13.63 455.78 19.50 456.60 C25.37 457.42 32.58 458.62 39.10 459.70 C45.62 460.78 52.08 462.05 58.60 463.10 C65.12 464.15 71.68 465.03 78.20 466.00 C84.72 466.97 91.18 467.98 97.70 468.90 C104.22 469.82 110.78 470.95 117.30 471.50 C123.82 472.05 130.30 472.08 136.80 472.20 C143.30 472.32 149.78 472.32 156.30 472.20 C162.82 472.08 169.38 471.95 175.90 471.50 C182.42 471.05 188.88 470.35 195.40 469.50 C201.92 468.65 208.48 467.47 215.00 466.40 C221.52 465.33 227.98 464.32 234.50 463.10 C241.02 461.88 247.58 460.25 254.10 459.10 C260.62 457.95 267.62 456.80 273.60 456.20 C279.58 455.60 284.02 456.27 290.00 455.50 C295.98 454.73 302.98 452.90 309.50 451.60 C316.02 450.30 319.32 448.83 329.10 447.70 C338.88 446.57 358.43 445.78 368.20 444.80 C377.97 443.82 381.18 442.78 387.70 441.80 C394.22 440.82 400.78 439.93 407.30 438.90 C413.82 437.87 420.30 436.35 426.80 435.60 C433.30 434.85 439.78 434.92 446.30 434.40 C452.82 433.88 459.38 433.05 465.90 432.50 C472.42 431.95 478.88 431.57 485.40 431.10 C491.92 430.63 498.48 429.93 505.00 429.70 C511.52 429.47 518.63 429.80 524.50 429.70 C530.37 429.60 533.68 430.17 540.20 429.10 C546.72 428.03 556.97 424.82 563.60 423.30 C570.23 421.78 574.67 421.47 580.00 420.00 C585.33 418.53 591.03 415.42 595.60 414.50 C600.17 413.58 603.48 414.23 607.40 414.50 C611.32 414.77 613.90 415.83 619.10 416.10 C624.30 416.37 631.43 415.78 638.60 416.10 C645.77 416.42 654.93 417.45 662.10 418.00 C669.27 418.55 672.48 418.62 681.60 419.40 C690.72 420.18 707.68 421.88 716.80 422.70 C725.92 423.52 729.78 423.45 736.30 424.30 C742.82 425.15 750.68 427.00 755.90 427.80 C761.12 428.60 761.08 428.97 767.60 429.10 C774.12 429.23 787.18 428.60 795.00 428.60 C802.82 428.60 807.98 428.68 814.50 429.10 C821.02 429.52 827.58 430.28 834.10 431.10 C840.62 431.92 847.62 433.38 853.60 434.00 C859.58 434.62 863.35 434.57 870.00 434.80 C876.65 435.03 885.68 434.98 893.50 435.40 C901.32 435.82 909.75 436.82 916.90 437.30 C924.05 437.78 929.88 438.72 936.40 438.30 C942.92 437.88 949.48 435.93 956.00 434.80 C962.52 433.67 967.03 433.13 975.50 431.50 C983.97 429.87 995.07 427.87 1006.80 425.00 C1018.53 422.13 1032.87 418.37 1045.90 414.30 C1058.93 410.23 1071.97 404.68 1085.00 400.60 C1098.03 396.52 1109.92 395.00 1124.10 389.80 C1138.28 384.60 1160.13 373.52 1170.10 369.40 C1180.07 365.28 1178.70 366.25 1183.90 365.10 C1189.10 363.95 1195.82 363.13 1201.30 362.50 C1206.78 361.87 1211.03 362.45 1216.80 361.30 C1222.57 360.15 1229.83 357.57 1235.90 355.60 C1241.97 353.63 1247.43 351.67 1253.20 349.50 C1258.97 347.33 1264.72 344.57 1270.50 342.60 C1276.28 340.63 1282.17 338.83 1287.90 337.70 C1293.63 336.57 1299.60 336.60 1304.90 335.80 C1310.20 335.00 1314.75 333.58 1319.70 332.90 C1324.65 332.22 1329.15 332.08 1334.60 331.70 C1340.05 331.32 1347.45 330.95 1352.40 330.60 C1357.35 330.25 1359.85 330.22 1364.30 329.60 C1368.75 328.98 1374.15 327.83 1379.10 326.90 C1384.05 325.97 1389.05 324.98 1394.00 324.00 C1398.95 323.02 1403.85 321.87 1408.80 321.00 C1413.75 320.13 1417.75 319.42 1423.70 318.80 C1429.65 318.18 1441.03 317.55 1444.50 317.30" stroke="#0000ff" stroke-width="2.1" fill="none" stroke-linejoin="round" shape-rendering="auto"/>
<path d="M3.90 392.70 C5.20 393.68 9.10 396.48 11.70 398.60 C14.30 400.72 16.23 402.32 19.50 405.40 C22.77 408.48 27.07 413.52 31.30 417.10 C35.53 420.68 41.00 423.80 44.90 426.90 C48.80 430.00 51.12 432.60 54.70 435.70 C58.28 438.80 62.48 442.57 66.40 445.50 C70.32 448.43 73.63 450.70 78.20 453.30 C82.77 455.90 89.25 458.50 93.80 461.10 C98.35 463.70 101.58 466.62 105.50 468.90 C109.42 471.18 113.38 473.65 117.30 474.80 C121.22 475.95 125.10 475.63 129.00 475.80 C132.90 475.97 136.15 475.97 140.70 475.80 C145.25 475.63 152.07 474.73 156.30 474.80 C160.53 474.87 162.83 476.20 166.10 476.20 C169.37 476.20 172.32 475.68 175.90 474.80 C179.48 473.92 182.38 472.70 187.60 470.90 C192.82 469.10 201.33 466.62 207.20 464.00 C213.07 461.38 218.25 458.13 222.80 455.20 C227.35 452.27 229.95 449.32 234.50 446.40 C239.05 443.48 244.88 440.47 250.10 437.70 C255.32 434.93 260.58 431.60 265.80 429.80 C271.02 428.00 277.37 427.50 281.40 426.90 C285.43 426.30 285.32 427.45 290.00 426.20 C294.68 424.95 302.98 421.52 309.50 419.40 C316.02 417.28 322.58 415.37 329.10 413.50 C335.62 411.63 342.08 409.18 348.60 408.20 C355.12 407.22 361.68 408.67 368.20 407.60 C374.72 406.53 381.18 403.58 387.70 401.80 C394.22 400.02 400.78 398.63 407.30 396.90 C413.82 395.17 420.30 392.28 426.80 391.40 C433.30 390.52 439.78 391.57 446.30 391.60 C452.82 391.63 459.38 391.70 465.90 391.60 C472.42 391.50 479.53 390.93 485.40 391.00 C491.27 391.07 496.22 391.02 501.10 392.00 C505.98 392.98 509.17 395.75 514.70 396.90 C520.23 398.05 528.75 399.07 534.30 398.90 C539.85 398.73 543.12 398.18 548.00 395.90 C552.88 393.62 558.40 388.93 563.60 385.20 C568.80 381.47 575.17 376.43 579.20 373.50 C583.23 370.57 585.07 369.73 587.80 367.60 C590.53 365.47 592.98 361.62 595.60 360.70 C598.22 359.78 600.23 360.30 603.50 362.10 C606.77 363.90 610.00 368.80 615.20 371.50 C620.40 374.20 627.53 375.20 634.70 378.30 C641.87 381.40 651.03 386.52 658.20 390.10 C665.37 393.68 671.18 396.87 677.70 399.80 C684.22 402.73 690.78 405.25 697.30 407.70 C703.82 410.15 711.60 412.72 716.80 414.50 C722.00 416.28 723.93 416.45 728.50 418.40 C733.07 420.35 739.63 423.75 744.20 426.20 C748.77 428.65 751.67 431.20 755.90 433.10 C760.13 435.00 764.72 437.35 769.60 437.60 C774.48 437.85 780.00 435.03 785.20 434.60 C790.40 434.17 795.92 434.77 800.80 435.00 C805.68 435.23 810.27 435.18 814.50 436.00 C818.73 436.82 821.97 438.27 826.20 439.90 C830.43 441.53 835.67 444.10 839.90 445.80 C844.13 447.50 847.68 449.45 851.60 450.10 C855.52 450.75 859.03 450.13 863.40 449.70 C867.77 449.27 872.13 447.28 877.80 447.50 C883.47 447.72 890.88 449.53 897.40 451.00 C903.92 452.47 910.40 455.32 916.90 456.30 C923.40 457.28 931.18 457.88 936.40 456.90 C941.62 455.92 944.28 453.12 948.20 450.40 C952.12 447.68 955.35 444.02 959.90 440.60 C964.45 437.18 970.28 433.38 975.50 429.90 C980.72 426.42 985.98 423.12 991.20 419.70 C996.42 416.28 1001.92 413.08 1006.80 409.40 C1011.68 405.72 1015.62 401.68 1020.50 397.60 C1025.38 393.52 1031.22 388.47 1036.10 384.90 C1040.98 381.33 1044.92 379.93 1049.80 376.20 C1054.68 372.47 1060.37 366.80 1065.40 362.50 C1070.43 358.20 1075.25 354.58 1080.00 350.40 C1084.75 346.22 1089.28 341.30 1093.90 337.40 C1098.52 333.50 1102.80 330.47 1107.70 327.00 C1112.60 323.53 1118.38 320.50 1123.30 316.60 C1128.22 312.70 1132.28 308.50 1137.20 303.60 C1142.12 298.70 1147.32 292.30 1152.80 287.20 C1158.28 282.10 1165.48 275.75 1170.10 273.00 C1174.72 270.25 1177.03 271.28 1180.50 270.70 C1183.97 270.12 1186.87 269.42 1190.90 269.50 C1194.93 269.58 1200.38 270.42 1204.70 271.20 C1209.02 271.98 1213.05 274.57 1216.80 274.20 C1220.55 273.83 1223.43 270.88 1227.20 269.00 C1230.97 267.12 1235.07 265.65 1239.40 262.90 C1243.73 260.15 1249.17 255.33 1253.20 252.50 C1257.23 249.67 1259.27 247.77 1263.60 245.90 C1267.93 244.03 1274.80 242.60 1279.20 241.30 C1283.60 240.00 1285.72 238.63 1290.00 238.10 C1294.28 237.57 1299.95 237.65 1304.90 238.10 C1309.85 238.55 1314.75 239.37 1319.70 240.80 C1324.65 242.23 1329.65 244.60 1334.60 246.70 C1339.55 248.80 1344.45 251.78 1349.40 253.40 C1354.35 255.02 1359.35 256.22 1364.30 256.40 C1369.25 256.58 1374.15 255.25 1379.10 254.50 C1384.05 253.75 1389.05 252.95 1394.00 251.90 C1398.95 250.85 1404.60 249.18 1408.80 248.20 C1413.00 247.22 1415.73 246.25 1419.20 246.00 C1422.67 245.75 1425.38 245.97 1429.60 246.70 C1433.82 247.43 1442.02 249.78 1444.50 250.40" stroke="#ff0000" stroke-width="2.1" fill="none" stroke-linejoin="round" shape-rendering="auto"/>
<rect x="1445" y="281" width="26" height="1" fill="#000"/>
<rect x="222" y="22" width="202" height="218" fill="#fff"/>
<rect x="430" y="54" width="192" height="131" fill="#fff"/>
<rect x="424" y="121" width="6" height="1" fill="#000"/>
<rect x="424" y="175" width="6" height="1" fill="#ff0000"/>
<g font-size="13.15" font-weight="bold">
<text x="226.5" y="38.9" fill="#ff0000">MOV( 55 )</text><text x="304.7" y="38.9" fill="#ff0000">: 10.765,14</text>
<text x="226.5" y="52.9" fill="#0000ff">MOV( 200 )</text><text x="304.7" y="52.9" fill="#0000ff">: 10.325,76</text>
<text x="226.5" y="66.9" fill="#000">HLine</text><text x="304.7" y="66.9" fill="#000">: 9525,00</text>
<text x="226.5" y="80.9" fill="#000">HLine</text><text x="304.7" y="80.9" fill="#000">: 8565,00</text>
<text x="226.5" y="94.9" fill="#000">HLine</text><text x="304.7" y="94.9" fill="#000">: 9050,00</text>
<text x="226.5" y="108.9" fill="#000">HLine</text><text x="304.7" y="108.9" fill="#000">: 10550,00</text>
<text x="226.5" y="122.9" fill="#000">HLine</text><text x="304.7" y="122.9" fill="#000">: 9800,00</text>
<text x="226.5" y="136.9" fill="#000">HLine</text><text x="304.7" y="136.9" fill="#000">: 10000,00</text>
<text x="226.5" y="150.9" fill="#000">HLine</text><text x="304.7" y="150.9" fill="#000">: 8715,00</text>
<text x="226.5" y="164.9" fill="#000">HLine</text><text x="304.7" y="164.9" fill="#000">: 11605,00</text>
<text x="226.5" y="178.9" fill="#000">HLine</text><text x="304.7" y="178.9" fill="#000">: 9255,00</text>
<text x="226.5" y="192.9" fill="#ff0000">HLine</text><text x="304.7" y="192.9" fill="#ff0000">: 10250,00</text>
<text x="226.5" y="206.9" fill="#ff0000">HLine</text><text x="304.7" y="206.9" fill="#ff0000">: 11252,00</text>
<text x="226.5" y="220.9" fill="#000">HLine</text><text x="304.7" y="220.9" fill="#000">: 10780,00</text>
<text x="226.5" y="234.9" fill="#ff0000">HLine</text><text x="304.7" y="234.9" fill="#ff0000">: 11025,00</text>
</g>
<g shape-rendering="auto"><circle cx="399.5" cy="35.1" r="3.6" fill="#e8c030"/><path d="M397.1 34.2 L399.1 38.0 L403.0 30.5" stroke="#000" stroke-width="2.3" fill="none" stroke-linejoin="miter"/></g>
<g shape-rendering="auto"><circle cx="399.5" cy="49.1" r="3.6" fill="#e8c030"/><path d="M397.1 48.2 L399.1 52.0 L403.0 44.5" stroke="#000" stroke-width="2.3" fill="none" stroke-linejoin="miter"/></g>
<g shape-rendering="auto"><circle cx="399.5" cy="63.1" r="3.6" fill="#e8c030"/><path d="M397.1 62.2 L399.1 66.0 L403.0 58.5" stroke="#000" stroke-width="2.3" fill="none" stroke-linejoin="miter"/></g>
<g shape-rendering="auto"><circle cx="399.5" cy="77.1" r="3.6" fill="#e8c030"/><path d="M397.1 76.2 L399.1 80.0 L403.0 72.5" stroke="#000" stroke-width="2.3" fill="none" stroke-linejoin="miter"/></g>
<g shape-rendering="auto"><circle cx="399.5" cy="91.1" r="3.6" fill="#e8c030"/><path d="M397.1 90.2 L399.1 94.0 L403.0 86.5" stroke="#000" stroke-width="2.3" fill="none" stroke-linejoin="miter"/></g>
<g shape-rendering="auto"><circle cx="399.5" cy="105.1" r="3.6" fill="#e8c030"/><path d="M397.1 104.2 L399.1 108.0 L403.0 100.5" stroke="#000" stroke-width="2.3" fill="none" stroke-linejoin="miter"/></g>
<g shape-rendering="auto"><circle cx="399.5" cy="119.1" r="3.6" fill="#e8c030"/><path d="M397.1 118.2 L399.1 122.0 L403.0 114.5" stroke="#000" stroke-width="2.3" fill="none" stroke-linejoin="miter"/></g>
<g shape-rendering="auto"><circle cx="399.5" cy="133.1" r="3.6" fill="#e8c030"/><path d="M397.1 132.2 L399.1 136.0 L403.0 128.5" stroke="#000" stroke-width="2.3" fill="none" stroke-linejoin="miter"/></g>
<g shape-rendering="auto"><circle cx="399.5" cy="147.1" r="3.6" fill="#e8c030"/><path d="M397.1 146.2 L399.1 150.0 L403.0 142.5" stroke="#000" stroke-width="2.3" fill="none" stroke-linejoin="miter"/></g>
<g shape-rendering="auto"><circle cx="399.5" cy="161.1" r="3.6" fill="#e8c030"/><path d="M397.1 160.2 L399.1 164.0 L403.0 156.5" stroke="#000" stroke-width="2.3" fill="none" stroke-linejoin="miter"/></g>
<g shape-rendering="auto"><circle cx="399.5" cy="175.1" r="3.6" fill="#e8c030"/><path d="M397.1 174.2 L399.1 178.0 L403.0 170.5" stroke="#000" stroke-width="2.3" fill="none" stroke-linejoin="miter"/></g>
<g shape-rendering="auto"><circle cx="399.5" cy="189.1" r="3.6" fill="#e8c030"/><path d="M397.1 188.2 L399.1 192.0 L403.0 184.5" stroke="#000" stroke-width="2.3" fill="none" stroke-linejoin="miter"/></g>
<g shape-rendering="auto"><circle cx="399.5" cy="203.1" r="3.6" fill="#e8c030"/><path d="M397.1 202.2 L399.1 206.0 L403.0 198.5" stroke="#000" stroke-width="2.3" fill="none" stroke-linejoin="miter"/></g>
<g shape-rendering="auto"><circle cx="399.5" cy="217.1" r="3.6" fill="#e8c030"/><path d="M397.1 216.2 L399.1 220.0 L403.0 212.5" stroke="#000" stroke-width="2.3" fill="none" stroke-linejoin="miter"/></g>
<g shape-rendering="auto"><circle cx="399.5" cy="231.1" r="3.6" fill="#e8c030"/><path d="M397.1 230.2 L399.1 234.0 L403.0 226.5" stroke="#000" stroke-width="2.3" fill="none" stroke-linejoin="miter"/></g>
<g font-size="13.1" font-weight="bold" fill="#000">
<text x="432.5" y="67.7">14.11.2025</text>
<text x="432.5" y="81.7">XU100</text>
<text x="432.5" y="95.7">Açılış</text>
<text x="511" y="95.7">10604,89</text>
<text x="432.5" y="109.7">Yüksek</text>
<text x="511" y="109.7">10607,39</text>
<text x="432.5" y="123.7">Düşük</text>
<text x="511" y="123.7">10440,44</text>
<text x="432.5" y="137.7">Kapanış</text>
<text x="511" y="137.7">10565,74</text>
<text x="432.5" y="151.7">Ö.Kap.Fark</text>
<text x="511" y="151.7">-62,89</text>
<text x="432.5" y="165.7">Miktar</text>
<text x="511" y="165.7">6635786775,00</text>
<text x="432.5" y="179.7">Değer</text>
<text x="511" y="179.7">11987,73</text>
</g>
<rect x="1471" y="18" width="1" height="750" fill="#000"/>
<rect x="1472" y="675" width="7" height="1" fill="#000"/>
<rect x="1472" y="659" width="4" height="1" fill="#000"/>
<rect x="1472" y="644" width="7" height="1" fill="#000"/>
<rect x="1472" y="629" width="4" height="1" fill="#000"/>
<rect x="1472" y="613" width="7" height="1" fill="#000"/>
<rect x="1472" y="598" width="4" height="1" fill="#000"/>
<rect x="1472" y="582" width="7" height="1" fill="#000"/>
<rect x="1472" y="567" width="4" height="1" fill="#000"/>
<rect x="1472" y="552" width="7" height="1" fill="#000"/>
<rect x="1472" y="536" width="4" height="1" fill="#000"/>
<rect x="1472" y="521" width="7" height="1" fill="#000"/>
<rect x="1472" y="506" width="4" height="1" fill="#000"/>
<rect x="1472" y="490" width="7" height="1" fill="#000"/>
<rect x="1472" y="475" width="4" height="1" fill="#000"/>
<rect x="1472" y="459" width="7" height="1" fill="#000"/>
<rect x="1472" y="444" width="4" height="1" fill="#000"/>
<rect x="1472" y="429" width="7" height="1" fill="#000"/>
<rect x="1472" y="413" width="4" height="1" fill="#000"/>
<rect x="1472" y="398" width="7" height="1" fill="#000"/>
<rect x="1472" y="383" width="4" height="1" fill="#000"/>
<rect x="1472" y="367" width="7" height="1" fill="#000"/>
<rect x="1472" y="352" width="4" height="1" fill="#000"/>
<rect x="1472" y="336" width="7" height="1" fill="#000"/>
<rect x="1472" y="321" width="4" height="1" fill="#000"/>
<rect x="1472" y="306" width="7" height="1" fill="#000"/>
<rect x="1472" y="290" width="4" height="1" fill="#000"/>
<rect x="1472" y="275" width="7" height="1" fill="#000"/>
<rect x="1472" y="260" width="4" height="1" fill="#000"/>
<rect x="1472" y="244" width="7" height="1" fill="#000"/>
<rect x="1472" y="229" width="4" height="1" fill="#000"/>
<rect x="1472" y="213" width="7" height="1" fill="#000"/>
<rect x="1472" y="198" width="4" height="1" fill="#000"/>
<rect x="1472" y="183" width="7" height="1" fill="#000"/>
<rect x="1472" y="167" width="4" height="1" fill="#000"/>
<rect x="1472" y="152" width="7" height="1" fill="#000"/>
<rect x="1472" y="137" width="4" height="1" fill="#000"/>
<rect x="1472" y="121" width="7" height="1" fill="#000"/>
<rect x="1472" y="106" width="4" height="1" fill="#000"/>
<rect x="1472" y="90" width="7" height="1" fill="#000"/>
<rect x="1472" y="75" width="4" height="1" fill="#000"/>
<rect x="1472" y="60" width="7" height="1" fill="#000"/>
<g font-size="13.5" font-weight="bold" fill="#000">
<text x="1481.5" y="680.0">8000,00</text>
<text x="1481.5" y="649.0">8200,00</text>
<text x="1481.5" y="619.0">8400,00</text>
<text x="1481.5" y="588.0">8600,00</text>
<text x="1481.5" y="557.0">8800,00</text>
<text x="1481.5" y="526.0">9000,00</text>
<text x="1481.5" y="496.0">9200,00</text>
<text x="1481.5" y="465.0">9400,00</text>
<text x="1481.5" y="434.0">9600,00</text>
<text x="1481.5" y="403.0">9800,00</text>
<text x="1481.5" y="373.0">10000,00</text>
<text x="1481.5" y="342.0">10200,00</text>
<text x="1481.5" y="311.0">10400,00</text>
<text x="1481.5" y="280.0">10600,00</text>
<text x="1481.5" y="250.0">10800,00</text>
<text x="1481.5" y="219.0">11000,00</text>
<text x="1481.5" y="188.0">11200,00</text>
<text x="1481.5" y="157.0">11400,00</text>
<text x="1481.5" y="127.0">11600,00</text>
<text x="1481.5" y="96.0">11800,00</text>
<text x="1481.5" y="65.0">12000,00</text>
</g>
<g font-size="12.5">
<rect x="1472" y="270" width="59" height="20" fill="#000"/>
<rect x="1472" y="430" width="59" height="20" fill="#000"/>
<rect x="1472" y="578" width="59" height="20" fill="#000"/>
<rect x="1472" y="503" width="59" height="20" fill="#000"/>
<rect x="1472" y="273" width="59" height="20" fill="#000"/>
<rect x="1472" y="388" width="59" height="20" fill="#000"/>
<rect x="1472" y="357" width="59" height="20" fill="#000"/>
<rect x="1472" y="555" width="59" height="20" fill="#000"/>
<rect x="1472" y="111" width="59" height="20" fill="#000"/>
<rect x="1472" y="472" width="59" height="20" fill="#000"/>
<rect x="1472" y="319" width="59" height="20" fill="#ff0000"/>
<rect x="1472" y="165" width="59" height="20" fill="#ff0000"/>
<rect x="1472" y="237" width="59" height="20" fill="#000"/>
<rect x="1472" y="200" width="59" height="20" fill="#ff0000"/>
<text x="1481.9" y="443.9" fill="#fff">9525,0</text>
<text x="1481.9" y="591.9" fill="#fff">8565,0</text>
<text x="1481.9" y="516.9" fill="#fff">9050,0</text>
<text x="1481.9" y="286.9" fill="#fff">10550,</text>
<text x="1481.9" y="401.9" fill="#fff">9800,0</text>
<text x="1481.9" y="370.9" fill="#fff">10000,</text>
<text x="1481.9" y="568.9" fill="#fff">8715,0</text>
<text x="1481.9" y="124.9" fill="#fff">11605,</text>
<text x="1481.9" y="485.9" fill="#fff">9255,0</text>
<text x="1481.9" y="332.9" fill="#000">10250,</text>
<text x="1481.9" y="178.9" fill="#000">11252,</text>
<text x="1481.9" y="250.9" fill="#fff">10780,</text>
<text x="1481.9" y="213.9" fill="#000">11025,</text>
</g>
<rect x="1456.5" y="19.5" width="14" height="9" rx="3" fill="url(#gY)" stroke="#dcc060" stroke-width="1" shape-rendering="auto"/>
<path d="M1461 21 h2 v1 h-1 v5 h1 v1 h-2 Z M1466 21 h-2 v1 h1 v5 h-1 v1 h2 Z" fill="#222"/>
<rect x="4" y="691" width="1527" height="2" fill="#cbcbcb"/>
<text x="6.3" y="703.6" font-size="13.2" font-weight="bold" fill="#ff0000">VOL (Lot)</text>
<text x="76.6" y="703.6" font-size="13.25" font-weight="bold" fill="#ff0000">: 6.635.786.752,00</text>
<g shape-rendering="auto"><circle cx="227.5" cy="700.0" r="3.6" fill="#e8c030"/><path d="M225.1 699.1 L227.1 702.9 L231.0 695.4" stroke="#000" stroke-width="2.3" fill="none" stroke-linejoin="miter"/></g>
<rect x="4" y="757" width="1" height="10" fill="#ff0000"/>
<rect x="8" y="752" width="2" height="15" fill="#ff0000"/>
<rect x="13" y="755" width="2" height="12" fill="#ff0000"/>
<rect x="18" y="756" width="2" height="11" fill="#ff0000"/>
<rect x="24" y="756" width="2" height="11" fill="#ff0000"/>
<rect x="29" y="756" width="2" height="11" fill="#ff0000"/>
<rect x="34" y="754" width="2" height="13" fill="#ff0000"/>
<rect x="39" y="756" width="2" height="11" fill="#ff0000"/>
<rect x="44" y="755" width="2" height="12" fill="#ff0000"/>
<rect x="49" y="755" width="2" height="12" fill="#ff0000"/>
<rect x="55" y="758" width="2" height="9" fill="#ff0000"/>
<rect x="60" y="754" width="2" height="13" fill="#ff0000"/>
<rect x="65" y="754" width="2" height="13" fill="#ff0000"/>
<rect x="70" y="758" width="2" height="9" fill="#ff0000"/>
<rect x="75" y="758" width="2" height="9" fill="#ff0000"/>
<rect x="81" y="764" width="2" height="3" fill="#ff0000"/>
<rect x="86" y="758" width="2" height="9" fill="#ff0000"/>
<rect x="91" y="758" width="2" height="9" fill="#ff0000"/>
<rect x="96" y="755" width="2" height="12" fill="#ff0000"/>
<rect x="101" y="757" width="2" height="10" fill="#ff0000"/>
<rect x="106" y="757" width="2" height="10" fill="#ff0000"/>
<rect x="112" y="752" width="2" height="15" fill="#ff0000"/>
<rect x="117" y="755" width="2" height="12" fill="#ff0000"/>
<rect x="122" y="752" width="2" height="15" fill="#ff0000"/>
<rect x="127" y="750" width="2" height="17" fill="#ff0000"/>
<rect x="132" y="753" width="2" height="14" fill="#ff0000"/>
<rect x="138" y="750" width="2" height="17" fill="#ff0000"/>
<rect x="143" y="754" width="2" height="13" fill="#ff0000"/>
<rect x="148" y="754" width="2" height="13" fill="#ff0000"/>
<rect x="153" y="755" width="2" height="12" fill="#ff0000"/>
<rect x="158" y="751" width="2" height="16" fill="#ff0000"/>
<rect x="163" y="754" width="2" height="13" fill="#ff0000"/>
<rect x="169" y="750" width="2" height="17" fill="#ff0000"/>
<rect x="174" y="744" width="2" height="23" fill="#ff0000"/>
<rect x="179" y="746" width="2" height="21" fill="#ff0000"/>
<rect x="184" y="751" width="2" height="16" fill="#ff0000"/>
<rect x="189" y="749" width="2" height="18" fill="#ff0000"/>
<rect x="195" y="752" width="2" height="15" fill="#ff0000"/>
<rect x="200" y="748" width="2" height="19" fill="#ff0000"/>
<rect x="205" y="753" width="2" height="14" fill="#ff0000"/>
<rect x="210" y="746" width="2" height="21" fill="#ff0000"/>
<rect x="215" y="746" width="2" height="21" fill="#ff0000"/>
<rect x="220" y="751" width="2" height="16" fill="#ff0000"/>
<rect x="226" y="749" width="2" height="18" fill="#ff0000"/>
<rect x="231" y="745" width="2" height="22" fill="#ff0000"/>
<rect x="236" y="750" width="2" height="17" fill="#ff0000"/>
<rect x="241" y="750" width="2" height="17" fill="#ff0000"/>
<rect x="246" y="751" width="2" height="16" fill="#ff0000"/>
<rect x="252" y="751" width="2" height="16" fill="#ff0000"/>
<rect x="257" y="754" width="2" height="13" fill="#ff0000"/>
<rect x="262" y="752" width="2" height="15" fill="#ff0000"/>
<rect x="267" y="750" width="2" height="17" fill="#ff0000"/>
<rect x="272" y="754" width="2" height="13" fill="#ff0000"/>
<rect x="277" y="753" width="2" height="14" fill="#ff0000"/>
<rect x="283" y="755" width="2" height="12" fill="#ff0000"/>
<rect x="288" y="756" width="2" height="11" fill="#ff0000"/>
<rect x="293" y="757" width="2" height="10" fill="#ff0000"/>
<rect x="298" y="750" width="2" height="17" fill="#ff0000"/>
<rect x="303" y="753" width="2" height="14" fill="#ff0000"/>
<rect x="309" y="757" width="2" height="10" fill="#ff0000"/>
<rect x="314" y="754" width="2" height="13" fill="#ff0000"/>
<rect x="319" y="750" width="2" height="17" fill="#ff0000"/>
<rect x="324" y="738" width="2" height="29" fill="#ff0000"/>
<rect x="329" y="734" width="2" height="33" fill="#ff0000"/>
<rect x="334" y="742" width="2" height="25" fill="#ff0000"/>
<rect x="340" y="749" width="2" height="18" fill="#ff0000"/>
<rect x="345" y="749" width="2" height="18" fill="#ff0000"/>
<rect x="350" y="748" width="2" height="19" fill="#ff0000"/>
<rect x="355" y="747" width="2" height="20" fill="#ff0000"/>
<rect x="360" y="748" width="2" height="19" fill="#ff0000"/>
<rect x="366" y="747" width="2" height="20" fill="#ff0000"/>
<rect x="371" y="746" width="2" height="21" fill="#ff0000"/>
<rect x="376" y="751" width="2" height="16" fill="#ff0000"/>
<rect x="381" y="749" width="2" height="18" fill="#ff0000"/>
<rect x="386" y="747" width="2" height="20" fill="#ff0000"/>
<rect x="391" y="750" width="2" height="17" fill="#ff0000"/>
<rect x="397" y="748" width="2" height="19" fill="#ff0000"/>
<rect x="402" y="753" width="2" height="14" fill="#ff0000"/>
<rect x="407" y="751" width="2" height="16" fill="#ff0000"/>
<rect x="412" y="751" width="2" height="16" fill="#ff0000"/>
<rect x="417" y="751" width="2" height="16" fill="#ff0000"/>
<rect x="423" y="752" width="2" height="15" fill="#ff0000"/>
<rect x="428" y="752" width="2" height="15" fill="#ff0000"/>
<rect x="433" y="747" width="2" height="20" fill="#ff0000"/>
<rect x="438" y="751" width="2" height="16" fill="#ff0000"/>
<rect x="443" y="746" width="2" height="21" fill="#ff0000"/>
<rect x="449" y="752" width="2" height="15" fill="#ff0000"/>
<rect x="454" y="750" width="2" height="17" fill="#ff0000"/>
<rect x="459" y="753" width="2" height="14" fill="#ff0000"/>
<rect x="464" y="752" width="2" height="15" fill="#ff0000"/>
<rect x="469" y="750" width="2" height="17" fill="#ff0000"/>
<rect x="474" y="751" width="2" height="16" fill="#ff0000"/>
<rect x="480" y="752" width="2" height="15" fill="#ff0000"/>
<rect x="485" y="755" width="2" height="12" fill="#ff0000"/>
<rect x="490" y="748" width="2" height="19" fill="#ff0000"/>
<rect x="495" y="747" width="2" height="20" fill="#ff0000"/>
<rect x="500" y="746" width="2" height="21" fill="#ff0000"/>
<rect x="506" y="748" width="2" height="19" fill="#ff0000"/>
<rect x="511" y="755" width="2" height="12" fill="#ff0000"/>
<rect x="516" y="754" width="2" height="13" fill="#ff0000"/>
<rect x="521" y="754" width="2" height="13" fill="#ff0000"/>
<rect x="526" y="751" width="2" height="16" fill="#ff0000"/>
<rect x="531" y="753" width="2" height="14" fill="#ff0000"/>
<rect x="537" y="746" width="2" height="21" fill="#ff0000"/>
<rect x="542" y="753" width="2" height="14" fill="#ff0000"/>
<rect x="547" y="748" width="2" height="19" fill="#ff0000"/>
<rect x="552" y="742" width="2" height="25" fill="#ff0000"/>
<rect x="557" y="747" width="2" height="20" fill="#ff0000"/>
<rect x="563" y="751" width="2" height="16" fill="#ff0000"/>
<rect x="568" y="746" width="2" height="21" fill="#ff0000"/>
<rect x="573" y="745" width="2" height="22" fill="#ff0000"/>
<rect x="578" y="748" width="2" height="19" fill="#ff0000"/>
<rect x="583" y="749" width="2" height="18" fill="#ff0000"/>
<rect x="588" y="745" width="2" height="22" fill="#ff0000"/>
<rect x="594" y="747" width="2" height="20" fill="#ff0000"/>
<rect x="599" y="744" width="2" height="23" fill="#ff0000"/>
<rect x="604" y="734" width="2" height="33" fill="#ff0000"/>
<rect x="609" y="743" width="2" height="24" fill="#ff0000"/>
<rect x="614" y="738" width="2" height="29" fill="#ff0000"/>
<rect x="620" y="741" width="2" height="26" fill="#ff0000"/>
<rect x="625" y="746" width="2" height="21" fill="#ff0000"/>
<rect x="630" y="745" width="2" height="22" fill="#ff0000"/>
<rect x="635" y="748" width="2" height="19" fill="#ff0000"/>
<rect x="640" y="752" width="2" height="15" fill="#ff0000"/>
<rect x="645" y="753" width="2" height="14" fill="#ff0000"/>
<rect x="651" y="753" width="2" height="14" fill="#ff0000"/>
<rect x="656" y="746" width="2" height="21" fill="#ff0000"/>
<rect x="661" y="753" width="2" height="14" fill="#ff0000"/>
<rect x="666" y="750" width="2" height="17" fill="#ff0000"/>
<rect x="671" y="751" width="2" height="16" fill="#ff0000"/>
<rect x="677" y="750" width="2" height="17" fill="#ff0000"/>
<rect x="682" y="749" width="2" height="18" fill="#ff0000"/>
<rect x="687" y="748" width="2" height="19" fill="#ff0000"/>
<rect x="692" y="750" width="2" height="17" fill="#ff0000"/>
<rect x="697" y="743" width="2" height="24" fill="#ff0000"/>
<rect x="702" y="752" width="2" height="15" fill="#ff0000"/>
<rect x="708" y="745" width="2" height="22" fill="#ff0000"/>
<rect x="713" y="750" width="2" height="17" fill="#ff0000"/>
<rect x="718" y="750" width="2" height="17" fill="#ff0000"/>
<rect x="723" y="751" width="2" height="16" fill="#ff0000"/>
<rect x="728" y="752" width="2" height="15" fill="#ff0000"/>
<rect x="734" y="753" width="2" height="14" fill="#ff0000"/>
<rect x="739" y="750" width="2" height="17" fill="#ff0000"/>
<rect x="744" y="754" width="2" height="13" fill="#ff0000"/>
<rect x="749" y="750" width="2" height="17" fill="#ff0000"/>
<rect x="754" y="753" width="2" height="14" fill="#ff0000"/>
<rect x="759" y="751" width="2" height="16" fill="#ff0000"/>
<rect x="765" y="753" width="2" height="14" fill="#ff0000"/>
<rect x="770" y="750" width="2" height="17" fill="#ff0000"/>
<rect x="775" y="746" width="2" height="21" fill="#ff0000"/>
<rect x="780" y="747" width="2" height="20" fill="#ff0000"/>
<rect x="785" y="750" width="2" height="17" fill="#ff0000"/>
<rect x="791" y="751" width="2" height="16" fill="#ff0000"/>
<rect x="796" y="749" width="2" height="18" fill="#ff0000"/>
<rect x="801" y="752" width="2" height="15" fill="#ff0000"/>
<rect x="806" y="752" width="2" height="15" fill="#ff0000"/>
<rect x="811" y="750" width="2" height="17" fill="#ff0000"/>
<rect x="816" y="751" width="2" height="16" fill="#ff0000"/>
<rect x="822" y="756" width="2" height="11" fill="#ff0000"/>
<rect x="827" y="755" width="2" height="12" fill="#ff0000"/>
<rect x="832" y="756" width="2" height="11" fill="#ff0000"/>
<rect x="837" y="754" width="2" height="13" fill="#ff0000"/>
<rect x="842" y="753" width="2" height="14" fill="#ff0000"/>
<rect x="848" y="754" width="2" height="13" fill="#ff0000"/>
<rect x="853" y="752" width="2" height="15" fill="#ff0000"/>
<rect x="858" y="756" width="2" height="11" fill="#ff0000"/>
<rect x="863" y="763" width="2" height="4" fill="#ff0000"/>
<rect x="868" y="751" width="2" height="16" fill="#ff0000"/>
<rect x="873" y="752" width="2" height="15" fill="#ff0000"/>
<rect x="879" y="753" width="2" height="14" fill="#ff0000"/>
<rect x="884" y="751" width="2" height="16" fill="#ff0000"/>
<rect x="889" y="753" width="2" height="14" fill="#ff0000"/>
<rect x="894" y="755" width="2" height="12" fill="#ff0000"/>
<rect x="899" y="752" width="2" height="15" fill="#ff0000"/>
<rect x="905" y="754" width="2" height="13" fill="#ff0000"/>
<rect x="910" y="755" width="2" height="12" fill="#ff0000"/>
<rect x="915" y="756" width="2" height="11" fill="#ff0000"/>
<rect x="920" y="749" width="2" height="18" fill="#ff0000"/>
<rect x="925" y="755" width="2" height="12" fill="#ff0000"/>
<rect x="930" y="756" width="2" height="11" fill="#ff0000"/>
<rect x="936" y="752" width="2" height="15" fill="#ff0000"/>
<rect x="941" y="740" width="2" height="27" fill="#ff0000"/>
<rect x="946" y="743" width="2" height="24" fill="#ff0000"/>
<rect x="951" y="742" width="2" height="25" fill="#ff0000"/>
<rect x="956" y="748" width="2" height="19" fill="#ff0000"/>
<rect x="962" y="752" width="2" height="15" fill="#ff0000"/>
<rect x="967" y="750" width="2" height="17" fill="#ff0000"/>
<rect x="972" y="751" width="2" height="16" fill="#ff0000"/>
<rect x="977" y="748" width="2" height="19" fill="#ff0000"/>
<rect x="982" y="745" width="2" height="22" fill="#ff0000"/>
<rect x="987" y="748" width="2" height="19" fill="#ff0000"/>
<rect x="993" y="749" width="2" height="18" fill="#ff0000"/>
<rect x="998" y="743" width="2" height="24" fill="#ff0000"/>
<rect x="1003" y="746" width="2" height="21" fill="#ff0000"/>
<rect x="1008" y="748" width="2" height="19" fill="#ff0000"/>
<rect x="1013" y="745" width="2" height="22" fill="#ff0000"/>
<rect x="1019" y="745" width="2" height="22" fill="#ff0000"/>
<rect x="1024" y="744" width="2" height="23" fill="#ff0000"/>
<rect x="1029" y="743" width="2" height="24" fill="#ff0000"/>
<rect x="1034" y="748" width="2" height="19" fill="#ff0000"/>
<rect x="1039" y="745" width="2" height="22" fill="#ff0000"/>
<rect x="1044" y="744" width="2" height="23" fill="#ff0000"/>
<rect x="1050" y="733" width="2" height="34" fill="#ff0000"/>
<rect x="1055" y="742" width="2" height="25" fill="#ff0000"/>
<rect x="1060" y="743" width="2" height="24" fill="#ff0000"/>
<rect x="1065" y="745" width="2" height="22" fill="#ff0000"/>
<rect x="1070" y="748" width="2" height="19" fill="#ff0000"/>
<rect x="1076" y="740" width="2" height="27" fill="#ff0000"/>
<rect x="1081" y="739" width="2" height="28" fill="#ff0000"/>
<rect x="1086" y="736" width="2" height="31" fill="#ff0000"/>
<rect x="1091" y="743" width="2" height="24" fill="#ff0000"/>
<rect x="1096" y="740" width="2" height="27" fill="#ff0000"/>
<rect x="1102" y="742" width="2" height="25" fill="#ff0000"/>
<rect x="1107" y="731" width="2" height="36" fill="#ff0000"/>
<rect x="1112" y="735" width="2" height="32" fill="#ff0000"/>
<rect x="1117" y="728" width="2" height="39" fill="#ff0000"/>
<rect x="1122" y="721" width="2" height="46" fill="#ff0000"/>
<rect x="1127" y="728" width="2" height="39" fill="#ff0000"/>
<rect x="1133" y="715" width="2" height="52" fill="#ff0000"/>
<rect x="1138" y="711" width="2" height="56" fill="#ff0000"/>
<rect x="1143" y="717" width="2" height="50" fill="#ff0000"/>
<rect x="1148" y="706" width="2" height="61" fill="#ff0000"/>
<rect x="1153" y="729" width="2" height="38" fill="#ff0000"/>
<rect x="1159" y="734" width="2" height="33" fill="#ff0000"/>
<rect x="1164" y="732" width="2" height="35" fill="#ff0000"/>
<rect x="1169" y="733" width="2" height="34" fill="#ff0000"/>
<rect x="1174" y="711" width="2" height="56" fill="#ff0000"/>
<rect x="1179" y="727" width="2" height="40" fill="#ff0000"/>
<rect x="1184" y="730" width="2" height="37" fill="#ff0000"/>
<rect x="1190" y="722" width="2" height="45" fill="#ff0000"/>
<rect x="1195" y="731" width="2" height="36" fill="#ff0000"/>
<rect x="1200" y="733" width="2" height="34" fill="#ff0000"/>
<rect x="1205" y="740" width="2" height="27" fill="#ff0000"/>
<rect x="1210" y="727" width="2" height="40" fill="#ff0000"/>
<rect x="1216" y="738" width="2" height="29" fill="#ff0000"/>
<rect x="1221" y="721" width="2" height="46" fill="#ff0000"/>
<rect x="1226" y="721" width="2" height="46" fill="#ff0000"/>
<rect x="1231" y="725" width="2" height="42" fill="#ff0000"/>
<rect x="1236" y="730" width="2" height="37" fill="#ff0000"/>
<rect x="1241" y="727" width="2" height="40" fill="#ff0000"/>
<rect x="1247" y="729" width="2" height="38" fill="#ff0000"/>
<rect x="1252" y="735" width="2" height="32" fill="#ff0000"/>
<rect x="1257" y="724" width="2" height="43" fill="#ff0000"/>
<rect x="1262" y="739" width="2" height="28" fill="#ff0000"/>
<rect x="1267" y="739" width="2" height="28" fill="#ff0000"/>
<rect x="1273" y="739" width="2" height="28" fill="#ff0000"/>
<rect x="1278" y="739" width="2" height="28" fill="#ff0000"/>
<rect x="1283" y="726" width="2" height="41" fill="#ff0000"/>
<rect x="1288" y="726" width="2" height="41" fill="#ff0000"/>
<rect x="1293" y="739" width="2" height="28" fill="#ff0000"/>
<rect x="1298" y="740" width="2" height="27" fill="#ff0000"/>
<rect x="1304" y="739" width="2" height="28" fill="#ff0000"/>
<rect x="1309" y="737" width="2" height="30" fill="#ff0000"/>
<rect x="1314" y="736" width="2" height="31" fill="#ff0000"/>
<rect x="1319" y="738" width="2" height="29" fill="#ff0000"/>
<rect x="1324" y="739" width="2" height="28" fill="#ff0000"/>
<rect x="1330" y="738" width="2" height="29" fill="#ff0000"/>
<rect x="1335" y="735" width="2" height="32" fill="#ff0000"/>
<rect x="1340" y="735" width="2" height="32" fill="#ff0000"/>
<rect x="1345" y="735" width="2" height="32" fill="#ff0000"/>
<rect x="1350" y="735" width="2" height="32" fill="#ff0000"/>
<rect x="1355" y="735" width="2" height="32" fill="#ff0000"/>
<rect x="1361" y="731" width="2" height="36" fill="#ff0000"/>
<rect x="1366" y="705" width="2" height="62" fill="#ff0000"/>
<rect x="1371" y="709" width="2" height="58" fill="#ff0000"/>
<rect x="1376" y="734" width="2" height="33" fill="#ff0000"/>
<rect x="1381" y="752" width="2" height="15" fill="#ff0000"/>
<rect x="1387" y="736" width="2" height="31" fill="#ff0000"/>
<rect x="1392" y="728" width="2" height="39" fill="#ff0000"/>
<rect x="1397" y="725" width="2" height="42" fill="#ff0000"/>
<rect x="1402" y="729" width="2" height="38" fill="#ff0000"/>
<rect x="1407" y="728" width="2" height="39" fill="#ff0000"/>
<rect x="1412" y="730" width="2" height="37" fill="#ff0000"/>
<rect x="1418" y="731" width="2" height="36" fill="#ff0000"/>
<rect x="1423" y="737" width="2" height="30" fill="#ff0000"/>
<rect x="1428" y="726" width="2" height="41" fill="#ff0000"/>
<rect x="1433" y="732" width="2" height="35" fill="#ff0000"/>
<rect x="1438" y="741" width="2" height="26" fill="#ff0000"/>
<rect x="1444" y="735" width="2" height="32" fill="#ff0000"/>
<rect x="1472" y="717" width="7" height="1" fill="#000"/>
<text x="1481.8" y="721.4" font-size="13.5" font-weight="bold" fill="#000">10.00Mr</text>
<rect x="1472" y="738" width="7" height="1" fill="#000"/>
<text x="1481.8" y="742.3" font-size="13.5" font-weight="bold" fill="#000">6.00Mr</text>
<rect x="1472" y="758" width="7" height="1" fill="#000"/>
<text x="1481.8" y="762.3" font-size="13.5" font-weight="bold" fill="#000">2.00Mr</text>
<rect x="1472" y="727" width="4" height="1" fill="#000"/>
<rect x="1472" y="748" width="4" height="1" fill="#000"/>
<g shape-rendering="auto"><rect x="1441.5" y="694.5" width="13" height="9" rx="2.5" fill="url(#gY2)" stroke="#e2cc80"/><rect x="1457" y="694.5" width="13" height="9" rx="2.5" fill="url(#gY2)" stroke="#e2cc80"/>
<path d="M1446 696 h2 v1 h-1 v4 h1 v1 h-2 Z M1451 696 h-2 v1 h1 v4 h-1 v1 h2 Z" fill="#333" shape-rendering="crispEdges"/>
<path d="M1462 697 L1464.8 700.6 M1464.8 697 L1462 700.6" stroke="#222" stroke-width="1.1" fill="none"/></g>
<rect x="4" y="768" width="1467" height="2" fill="#dcdcdc"/><rect x="1471" y="768" width="60" height="2" fill="#cccccc"/>
<rect x="4" y="770" width="1467" height="1" fill="#000"/>
<g font-size="12.3" fill="#1a1a1a">
<rect x="98" y="770" width="1" height="20" fill="#000"/>
<text x="98.4" y="784.7" letter-spacing="0.3">11-24</text>
<rect x="206" y="770" width="1" height="20" fill="#000"/>
<text x="206.4" y="784.7" letter-spacing="0.3">12-24</text>
<rect x="320" y="770" width="1" height="20" fill="#000"/>
<text x="320.4" y="784.7" letter-spacing="0.3">01-25</text>
<rect x="434" y="770" width="1" height="20" fill="#000"/>
<text x="434.4" y="784.7" letter-spacing="0.3">02-25</text>
<rect x="538" y="770" width="1" height="20" fill="#000"/>
<text x="538.4" y="784.7" letter-spacing="0.3">03-25</text>
<rect x="642" y="770" width="1" height="20" fill="#000"/>
<text x="642.4" y="784.7" letter-spacing="0.3">04-25</text>
<rect x="745" y="770" width="1" height="20" fill="#000"/>
<text x="745.4" y="784.7" letter-spacing="0.3">05-25</text>
<rect x="849" y="770" width="1" height="20" fill="#000"/>
<text x="849.4" y="784.7" letter-spacing="0.3">06-25</text>
<rect x="948" y="770" width="1" height="20" fill="#000"/>
<text x="948.4" y="784.7" letter-spacing="0.3">07-25</text>
<rect x="1062" y="770" width="1" height="20" fill="#000"/>
<text x="1062.4" y="784.7" letter-spacing="0.3">08-25</text>
<rect x="1170" y="770" width="1" height="20" fill="#000"/>
<text x="1170.4" y="784.7" letter-spacing="0.3">09-25</text>
<rect x="1284" y="770" width="1" height="20" fill="#000"/>
<text x="1284.4" y="784.7" letter-spacing="0.3">10-25</text>
<rect x="1398" y="770" width="1" height="20" fill="#000"/>
<text x="1398.4" y="784.7" letter-spacing="0.3">11-25</text>
</g>
<rect x="4" y="791" width="1467" height="12" fill="#000"/>
<rect x="19" y="792" width="1437" height="10" fill="url(#gS)"/>
<rect x="1042" y="793" width="398" height="8" fill="url(#gO)"/>
<path d="M7 797.2 L14 792.7 L14 801.7 Z" fill="#ff8400" shape-rendering="auto"/>
<path d="M1468 797.2 L1461 792.7 L1461 801.7 Z" fill="#ff8400" shape-rendering="auto"/>
<rect x="1531" y="0" width="4" height="808" fill="#fff"/>
<rect x="0" y="0" width="1535" height="1" fill="#a0a0a0"/>
<rect x="0" y="807" width="1535" height="1" fill="#a0a0a0"/>
<rect x="0" y="0" width="1" height="808" fill="#a0a0a0"/>
<rect x="1534" y="0" width="1" height="808" fill="#a0a0a0"/>
<rect x="3" y="3" width="1004" height="1" fill="#d4d4c8"/><rect x="1007" y="3" width="525" height="1" fill="#c6c6c6"/>
<rect x="3" y="3" width="1" height="802" fill="#b4b4b4"/>
<rect x="1531" y="3" width="1" height="802" fill="#b4b4b4"/>
<rect x="3" y="804" width="1529" height="1" fill="#b4b4b4"/>
</svg>
</body></html>
